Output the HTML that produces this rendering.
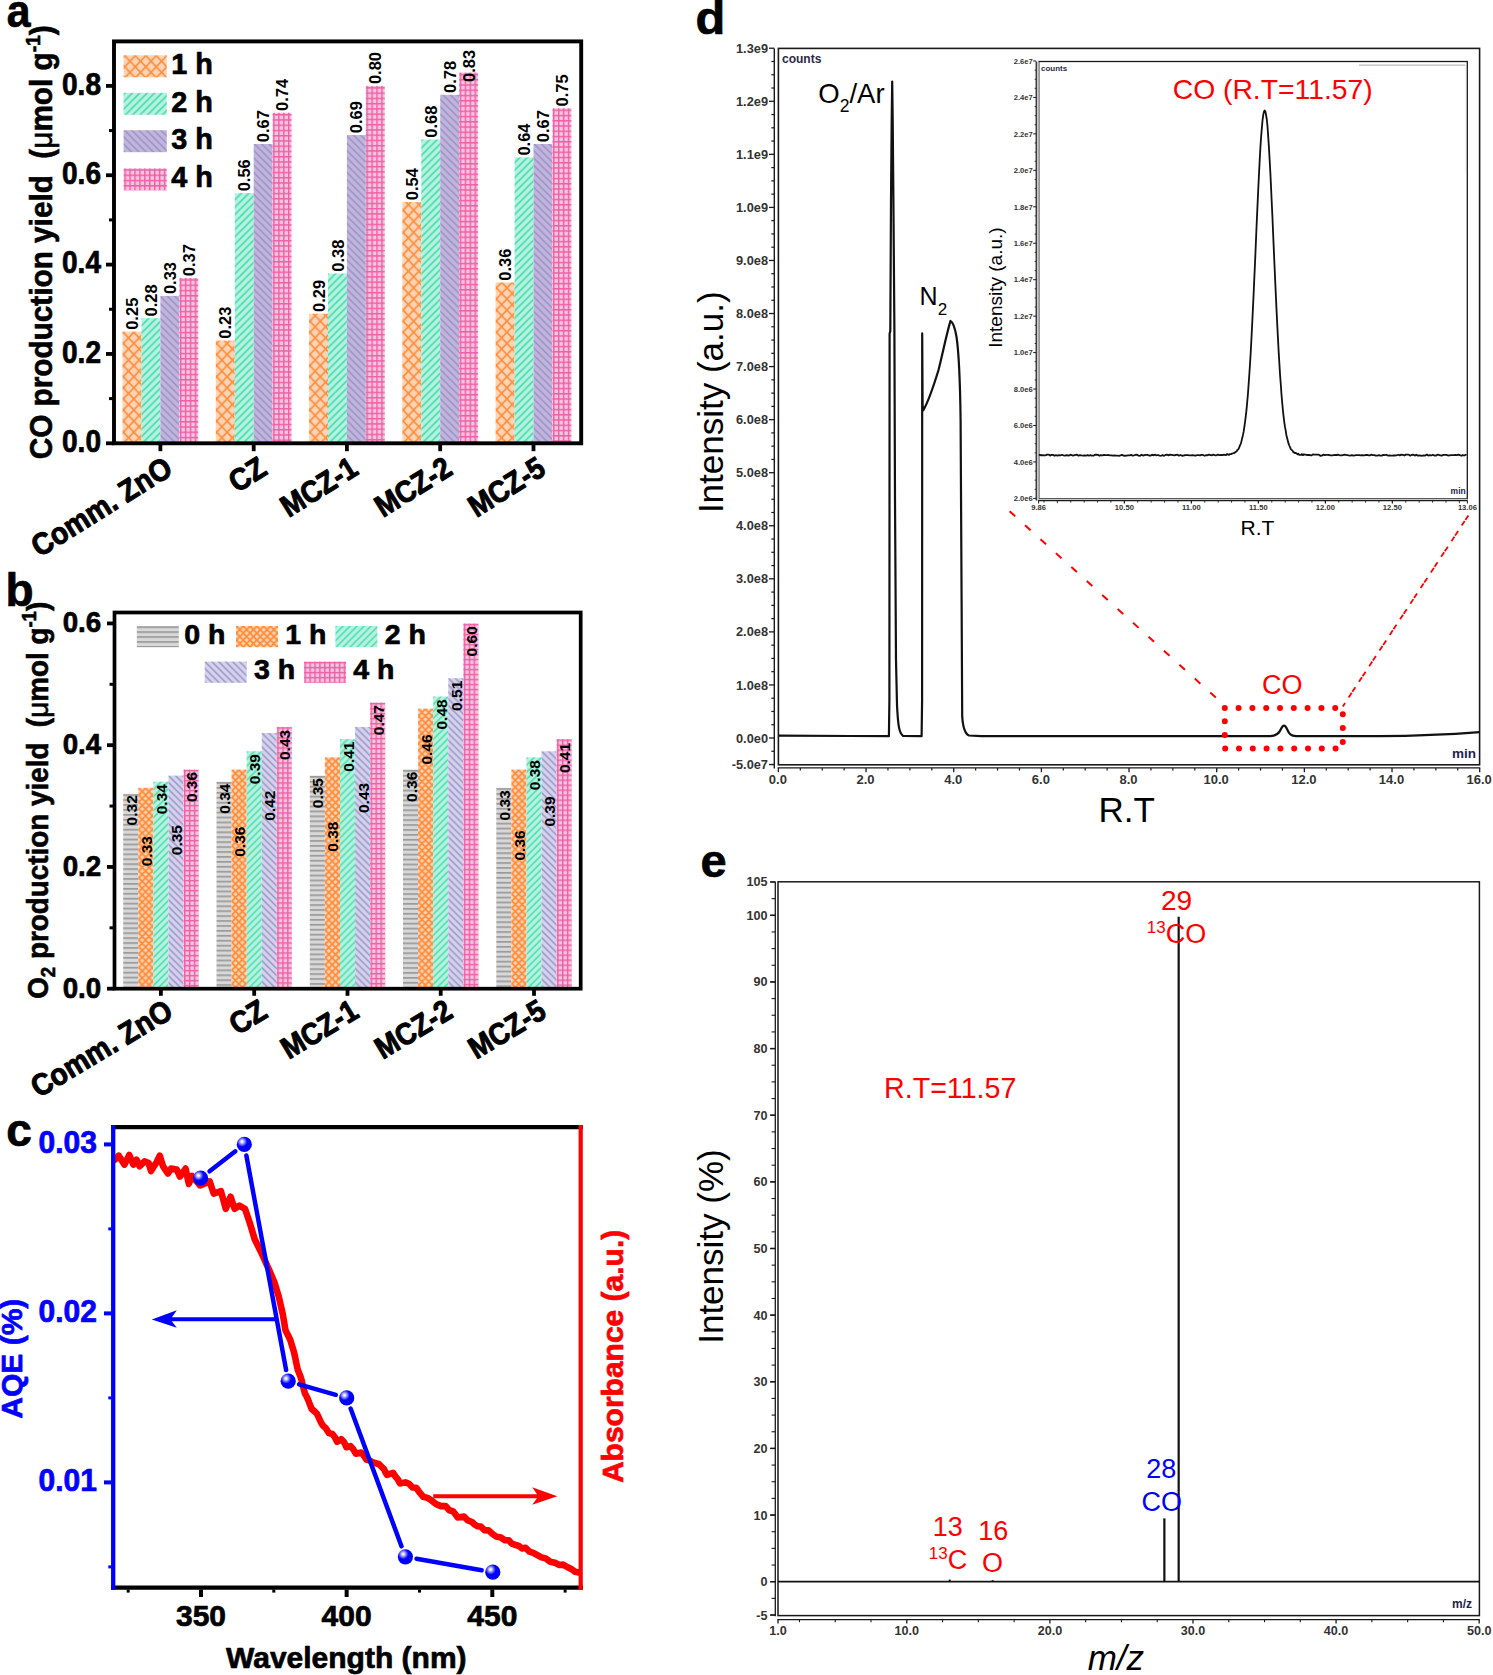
<!DOCTYPE html><html><head><meta charset="utf-8"><style>html,body{margin:0;padding:0;background:#fff;}svg{display:block;}text{font-family:"Liberation Sans", sans-serif;}</style></head><body>
<svg width="1493" height="1675" viewBox="0 0 1493 1675">
<rect width="1493" height="1675" fill="#fff"/>
<defs>
<radialGradient id="ball" cx="0.355" cy="0.32" r="0.34"><stop offset="0" stop-color="#FFFFFF"/><stop offset="0.2" stop-color="#E8E8FF"/><stop offset="0.6" stop-color="#7070FF"/><stop offset="1" stop-color="#0000FF"/></radialGradient>
</defs>
<rect x="122.54" y="331.61" width="18.95" height="111.69" fill="url(#p1)" />
<rect x="141.47" y="318.21" width="18.95" height="125.09" fill="url(#p2)" />
<rect x="160.40" y="295.87" width="18.95" height="147.43" fill="url(#p3)" />
<rect x="179.33" y="278.00" width="18.95" height="165.30" fill="url(#p4)" />
<rect x="215.84" y="340.55" width="18.95" height="102.75" fill="url(#p5)" />
<rect x="234.77" y="193.12" width="18.95" height="250.18" fill="url(#p6)" />
<rect x="253.70" y="143.98" width="18.95" height="299.32" fill="url(#p7)" />
<rect x="272.63" y="112.71" width="18.95" height="330.59" fill="url(#p8)" />
<rect x="309.04" y="313.74" width="18.95" height="129.56" fill="url(#p9)" />
<rect x="327.97" y="273.53" width="18.95" height="169.77" fill="url(#p10)" />
<rect x="346.90" y="135.04" width="18.95" height="308.26" fill="url(#p11)" />
<rect x="365.83" y="85.90" width="18.95" height="357.40" fill="url(#p12)" />
<rect x="402.34" y="202.06" width="18.95" height="241.25" fill="url(#p13)" />
<rect x="421.27" y="139.51" width="18.95" height="303.79" fill="url(#p14)" />
<rect x="440.20" y="94.83" width="18.95" height="348.47" fill="url(#p15)" />
<rect x="459.13" y="72.50" width="18.95" height="370.80" fill="url(#p16)" />
<rect x="495.64" y="282.47" width="18.95" height="160.83" fill="url(#p17)" />
<rect x="514.57" y="157.38" width="18.95" height="285.92" fill="url(#p18)" />
<rect x="533.50" y="143.98" width="18.95" height="299.32" fill="url(#p19)" />
<rect x="552.43" y="108.24" width="18.95" height="335.06" fill="url(#p20)" />
<text transform="translate(138.11,329.81) rotate(-90)" font-size="16.5" font-weight="bold" fill="#000" text-anchor="start" >0.25</text>
<text transform="translate(157.04,316.41) rotate(-90)" font-size="16.5" font-weight="bold" fill="#000" text-anchor="start" >0.28</text>
<text transform="translate(175.97,294.07) rotate(-90)" font-size="16.5" font-weight="bold" fill="#000" text-anchor="start" >0.33</text>
<text transform="translate(194.90,276.20) rotate(-90)" font-size="16.5" font-weight="bold" fill="#000" text-anchor="start" >0.37</text>
<text transform="translate(231.41,338.75) rotate(-90)" font-size="16.5" font-weight="bold" fill="#000" text-anchor="start" >0.23</text>
<text transform="translate(250.34,191.32) rotate(-90)" font-size="16.5" font-weight="bold" fill="#000" text-anchor="start" >0.56</text>
<text transform="translate(269.26,142.18) rotate(-90)" font-size="16.5" font-weight="bold" fill="#000" text-anchor="start" >0.67</text>
<text transform="translate(288.19,110.91) rotate(-90)" font-size="16.5" font-weight="bold" fill="#000" text-anchor="start" >0.74</text>
<text transform="translate(324.61,311.94) rotate(-90)" font-size="16.5" font-weight="bold" fill="#000" text-anchor="start" >0.29</text>
<text transform="translate(343.54,271.74) rotate(-90)" font-size="16.5" font-weight="bold" fill="#000" text-anchor="start" >0.38</text>
<text transform="translate(362.47,133.24) rotate(-90)" font-size="16.5" font-weight="bold" fill="#000" text-anchor="start" >0.69</text>
<text transform="translate(381.40,84.10) rotate(-90)" font-size="16.5" font-weight="bold" fill="#000" text-anchor="start" >0.80</text>
<text transform="translate(417.91,200.25) rotate(-90)" font-size="16.5" font-weight="bold" fill="#000" text-anchor="start" >0.54</text>
<text transform="translate(436.84,137.71) rotate(-90)" font-size="16.5" font-weight="bold" fill="#000" text-anchor="start" >0.68</text>
<text transform="translate(455.77,93.03) rotate(-90)" font-size="16.5" font-weight="bold" fill="#000" text-anchor="start" >0.78</text>
<text transform="translate(474.70,82.00) rotate(-90)" font-size="16.5" font-weight="bold" fill="#000" text-anchor="start" >0.83</text>
<text transform="translate(511.21,280.67) rotate(-90)" font-size="16.5" font-weight="bold" fill="#000" text-anchor="start" >0.36</text>
<text transform="translate(530.13,155.58) rotate(-90)" font-size="16.5" font-weight="bold" fill="#000" text-anchor="start" >0.64</text>
<text transform="translate(549.06,142.18) rotate(-90)" font-size="16.5" font-weight="bold" fill="#000" text-anchor="start" >0.67</text>
<text transform="translate(567.99,106.44) rotate(-90)" font-size="16.5" font-weight="bold" fill="#000" text-anchor="start" >0.75</text>
<rect x="114" y="41.4" width="467.2" height="401.9" fill="none" stroke="#000" stroke-width="3.9"/>
<line x1="106.00" y1="443.30" x2="114.00" y2="443.30" stroke="#000" stroke-width="3.8" />
<text transform="translate(101.00,452.10) scale(0.92,1)" font-size="30.5" font-weight="bold" fill="#000" text-anchor="end" stroke="#000" stroke-width="0.7" stroke-linejoin="round" >0.0</text>
<line x1="109.00" y1="398.62" x2="114.00" y2="398.62" stroke="#000" stroke-width="3.0" />
<line x1="106.00" y1="353.95" x2="114.00" y2="353.95" stroke="#000" stroke-width="3.8" />
<text transform="translate(101.00,362.75) scale(0.92,1)" font-size="30.5" font-weight="bold" fill="#000" text-anchor="end" stroke="#000" stroke-width="0.7" stroke-linejoin="round" >0.2</text>
<line x1="109.00" y1="309.27" x2="114.00" y2="309.27" stroke="#000" stroke-width="3.0" />
<line x1="106.00" y1="264.60" x2="114.00" y2="264.60" stroke="#000" stroke-width="3.8" />
<text transform="translate(101.00,273.40) scale(0.92,1)" font-size="30.5" font-weight="bold" fill="#000" text-anchor="end" stroke="#000" stroke-width="0.7" stroke-linejoin="round" >0.4</text>
<line x1="109.00" y1="219.93" x2="114.00" y2="219.93" stroke="#000" stroke-width="3.0" />
<line x1="106.00" y1="175.25" x2="114.00" y2="175.25" stroke="#000" stroke-width="3.8" />
<text transform="translate(101.00,184.05) scale(0.92,1)" font-size="30.5" font-weight="bold" fill="#000" text-anchor="end" stroke="#000" stroke-width="0.7" stroke-linejoin="round" >0.6</text>
<line x1="109.00" y1="130.58" x2="114.00" y2="130.58" stroke="#000" stroke-width="3.0" />
<line x1="106.00" y1="85.90" x2="114.00" y2="85.90" stroke="#000" stroke-width="3.8" />
<text transform="translate(101.00,94.70) scale(0.92,1)" font-size="30.5" font-weight="bold" fill="#000" text-anchor="end" stroke="#000" stroke-width="0.7" stroke-linejoin="round" >0.8</text>
<line x1="160.40" y1="443.30" x2="160.40" y2="451.20" stroke="#000" stroke-width="3.8" />
<line x1="253.70" y1="443.30" x2="253.70" y2="451.20" stroke="#000" stroke-width="3.8" />
<line x1="346.90" y1="443.30" x2="346.90" y2="451.20" stroke="#000" stroke-width="3.8" />
<line x1="440.20" y1="443.30" x2="440.20" y2="451.20" stroke="#000" stroke-width="3.8" />
<line x1="533.50" y1="443.30" x2="533.50" y2="451.20" stroke="#000" stroke-width="3.8" />
<text transform="translate(174.40,473.50) rotate(-32) scale(0.92,1)" font-size="30.5" font-weight="bold" fill="#000" text-anchor="end" stroke="#000" stroke-width="1.0" stroke-linejoin="round" >Comm. ZnO</text>
<text transform="translate(268.70,473.50) rotate(-32) scale(0.92,1)" font-size="30.5" font-weight="bold" fill="#000" text-anchor="end" stroke="#000" stroke-width="1.0" stroke-linejoin="round" >CZ</text>
<text transform="translate(359.90,473.50) rotate(-32) scale(0.9,1)" font-size="30.5" font-weight="bold" fill="#000" text-anchor="end" stroke="#000" stroke-width="1.0" stroke-linejoin="round" >MCZ-1</text>
<text transform="translate(454.20,473.50) rotate(-32) scale(0.9,1)" font-size="30.5" font-weight="bold" fill="#000" text-anchor="end" stroke="#000" stroke-width="1.0" stroke-linejoin="round" >MCZ-2</text>
<text transform="translate(547.50,473.50) rotate(-32) scale(0.9,1)" font-size="30.5" font-weight="bold" fill="#000" text-anchor="end" stroke="#000" stroke-width="1.0" stroke-linejoin="round" >MCZ-5</text>
<rect x="123.60" y="55.30" width="43.20" height="22.00" fill="url(#p21)" />
<text transform="translate(171.30,73.70) scale(0.96,1)" font-size="30" font-weight="bold" fill="#000" text-anchor="start" stroke="#000" stroke-width="0.7" stroke-linejoin="round" >1 h</text>
<rect x="123.60" y="92.80" width="43.20" height="22.00" fill="url(#p22)" />
<text transform="translate(171.30,111.70) scale(0.96,1)" font-size="30" font-weight="bold" fill="#000" text-anchor="start" stroke="#000" stroke-width="0.7" stroke-linejoin="round" >2 h</text>
<rect x="123.60" y="130.20" width="43.20" height="22.00" fill="url(#p23)" />
<text transform="translate(171.30,149.10) scale(0.96,1)" font-size="30" font-weight="bold" fill="#000" text-anchor="start" stroke="#000" stroke-width="0.7" stroke-linejoin="round" >3 h</text>
<rect x="123.60" y="168.40" width="43.20" height="22.00" fill="url(#p24)" />
<text transform="translate(171.30,187.30) scale(0.96,1)" font-size="30" font-weight="bold" fill="#000" text-anchor="start" stroke="#000" stroke-width="0.7" stroke-linejoin="round" >4 h</text>
<text transform="translate(51.6,459.3) rotate(-90)" font-size="31" font-weight="bold" stroke="#000" stroke-width="0.6" textLength="434" lengthAdjust="spacingAndGlyphs">CO production yield <tspan>&#160;(</tspan><tspan font-weight="normal">&#956;</tspan>mol g<tspan font-size="20" dy="-12">-1</tspan><tspan dy="12">)</tspan></text>
<text transform="translate(6.80,26.70) scale(0.93,1)" font-size="46" font-weight="bold" fill="#000" text-anchor="start" stroke="#000" stroke-width="0.7" stroke-linejoin="round" >a</text>
<rect x="123.20" y="793.88" width="15.10" height="194.82" fill="url(#p25)" />
<rect x="138.28" y="787.80" width="15.10" height="200.90" fill="url(#p26)" />
<rect x="153.36" y="781.71" width="15.10" height="206.99" fill="url(#p27)" />
<rect x="168.44" y="775.62" width="15.10" height="213.08" fill="url(#p28)" />
<rect x="183.52" y="769.53" width="15.10" height="219.17" fill="url(#p29)" />
<rect x="216.50" y="781.71" width="15.10" height="206.99" fill="url(#p30)" />
<rect x="231.58" y="769.53" width="15.10" height="219.17" fill="url(#p31)" />
<rect x="246.66" y="751.27" width="15.10" height="237.43" fill="url(#p32)" />
<rect x="261.74" y="733.00" width="15.10" height="255.70" fill="url(#p33)" />
<rect x="276.82" y="726.92" width="15.10" height="261.78" fill="url(#p34)" />
<rect x="309.80" y="775.62" width="15.10" height="213.08" fill="url(#p35)" />
<rect x="324.88" y="757.36" width="15.10" height="231.34" fill="url(#p36)" />
<rect x="339.96" y="739.09" width="15.10" height="249.61" fill="url(#p37)" />
<rect x="355.04" y="726.92" width="15.10" height="261.78" fill="url(#p38)" />
<rect x="370.12" y="702.56" width="15.10" height="286.14" fill="url(#p39)" />
<rect x="403.00" y="769.53" width="15.10" height="219.17" fill="url(#p40)" />
<rect x="418.08" y="708.65" width="15.10" height="280.05" fill="url(#p41)" />
<rect x="433.16" y="696.48" width="15.10" height="292.22" fill="url(#p42)" />
<rect x="448.24" y="678.21" width="15.10" height="310.49" fill="url(#p43)" />
<rect x="463.32" y="623.42" width="15.10" height="365.28" fill="url(#p44)" />
<rect x="496.30" y="787.80" width="15.10" height="200.90" fill="url(#p45)" />
<rect x="511.38" y="769.53" width="15.10" height="219.17" fill="url(#p46)" />
<rect x="526.46" y="757.36" width="15.10" height="231.34" fill="url(#p47)" />
<rect x="541.54" y="751.27" width="15.10" height="237.43" fill="url(#p48)" />
<rect x="556.62" y="739.09" width="15.10" height="249.61" fill="url(#p49)" />
<text transform="translate(136.74,825.40) rotate(-90)" font-size="15.5" font-weight="bold" fill="#000" text-anchor="start" >0.32</text>
<text transform="translate(151.82,866.30) rotate(-90)" font-size="15.5" font-weight="bold" fill="#000" text-anchor="start" >0.33</text>
<text transform="translate(166.90,814.30) rotate(-90)" font-size="15.5" font-weight="bold" fill="#000" text-anchor="start" >0.34</text>
<text transform="translate(181.98,855.20) rotate(-90)" font-size="15.5" font-weight="bold" fill="#000" text-anchor="start" >0.35</text>
<text transform="translate(197.06,802.10) rotate(-90)" font-size="15.5" font-weight="bold" fill="#000" text-anchor="start" >0.36</text>
<text transform="translate(230.04,813.70) rotate(-90)" font-size="15.5" font-weight="bold" fill="#000" text-anchor="start" >0.34</text>
<text transform="translate(245.12,856.80) rotate(-90)" font-size="15.5" font-weight="bold" fill="#000" text-anchor="start" >0.36</text>
<text transform="translate(260.20,784.30) rotate(-90)" font-size="15.5" font-weight="bold" fill="#000" text-anchor="start" >0.39</text>
<text transform="translate(275.28,820.80) rotate(-90)" font-size="15.5" font-weight="bold" fill="#000" text-anchor="start" >0.42</text>
<text transform="translate(290.36,760.00) rotate(-90)" font-size="15.5" font-weight="bold" fill="#000" text-anchor="start" >0.43</text>
<text transform="translate(323.34,808.20) rotate(-90)" font-size="15.5" font-weight="bold" fill="#000" text-anchor="start" >0.35</text>
<text transform="translate(338.42,851.70) rotate(-90)" font-size="15.5" font-weight="bold" fill="#000" text-anchor="start" >0.38</text>
<text transform="translate(353.50,771.70) rotate(-90)" font-size="15.5" font-weight="bold" fill="#000" text-anchor="start" >0.41</text>
<text transform="translate(368.58,813.00) rotate(-90)" font-size="15.5" font-weight="bold" fill="#000" text-anchor="start" >0.43</text>
<text transform="translate(383.66,735.20) rotate(-90)" font-size="15.5" font-weight="bold" fill="#000" text-anchor="start" >0.47</text>
<text transform="translate(416.54,801.90) rotate(-90)" font-size="15.5" font-weight="bold" fill="#000" text-anchor="start" >0.36</text>
<text transform="translate(431.62,764.60) rotate(-90)" font-size="15.5" font-weight="bold" fill="#000" text-anchor="start" >0.46</text>
<text transform="translate(446.70,729.50) rotate(-90)" font-size="15.5" font-weight="bold" fill="#000" text-anchor="start" >0.48</text>
<text transform="translate(461.78,710.90) rotate(-90)" font-size="15.5" font-weight="bold" fill="#000" text-anchor="start" >0.51</text>
<text transform="translate(476.86,656.40) rotate(-90)" font-size="15.5" font-weight="bold" fill="#000" text-anchor="start" >0.60</text>
<text transform="translate(509.84,820.40) rotate(-90)" font-size="15.5" font-weight="bold" fill="#000" text-anchor="start" >0.33</text>
<text transform="translate(524.92,860.50) rotate(-90)" font-size="15.5" font-weight="bold" fill="#000" text-anchor="start" >0.36</text>
<text transform="translate(540.00,790.30) rotate(-90)" font-size="15.5" font-weight="bold" fill="#000" text-anchor="start" >0.38</text>
<text transform="translate(555.08,826.60) rotate(-90)" font-size="15.5" font-weight="bold" fill="#000" text-anchor="start" >0.39</text>
<text transform="translate(570.16,773.10) rotate(-90)" font-size="15.5" font-weight="bold" fill="#000" text-anchor="start" >0.41</text>
<rect x="114.5" y="612.5" width="466.2" height="376.2" fill="none" stroke="#000" stroke-width="3.7"/>
<line x1="107.00" y1="988.70" x2="114.50" y2="988.70" stroke="#000" stroke-width="3.8" />
<text transform="translate(101.20,997.50) scale(0.94,1)" font-size="29.5" font-weight="bold" fill="#000" text-anchor="end" stroke="#000" stroke-width="0.7" stroke-linejoin="round" >0.0</text>
<line x1="109.50" y1="927.82" x2="114.50" y2="927.82" stroke="#000" stroke-width="3.0" />
<line x1="107.00" y1="866.94" x2="114.50" y2="866.94" stroke="#000" stroke-width="3.8" />
<text transform="translate(101.20,875.74) scale(0.94,1)" font-size="29.5" font-weight="bold" fill="#000" text-anchor="end" stroke="#000" stroke-width="0.7" stroke-linejoin="round" >0.2</text>
<line x1="109.50" y1="806.06" x2="114.50" y2="806.06" stroke="#000" stroke-width="3.0" />
<line x1="107.00" y1="745.18" x2="114.50" y2="745.18" stroke="#000" stroke-width="3.8" />
<text transform="translate(101.20,753.98) scale(0.94,1)" font-size="29.5" font-weight="bold" fill="#000" text-anchor="end" stroke="#000" stroke-width="0.7" stroke-linejoin="round" >0.4</text>
<line x1="109.50" y1="684.30" x2="114.50" y2="684.30" stroke="#000" stroke-width="3.0" />
<line x1="107.00" y1="623.42" x2="114.50" y2="623.42" stroke="#000" stroke-width="3.8" />
<text transform="translate(101.20,632.22) scale(0.94,1)" font-size="29.5" font-weight="bold" fill="#000" text-anchor="end" stroke="#000" stroke-width="0.7" stroke-linejoin="round" >0.6</text>
<line x1="160.90" y1="988.70" x2="160.90" y2="995.80" stroke="#000" stroke-width="3.8" />
<line x1="254.20" y1="988.70" x2="254.20" y2="995.80" stroke="#000" stroke-width="3.8" />
<line x1="347.50" y1="988.70" x2="347.50" y2="995.80" stroke="#000" stroke-width="3.8" />
<line x1="440.70" y1="988.70" x2="440.70" y2="995.80" stroke="#000" stroke-width="3.8" />
<line x1="534.00" y1="988.70" x2="534.00" y2="995.80" stroke="#000" stroke-width="3.8" />
<text transform="translate(174.90,1016.50) rotate(-31) scale(0.92,1)" font-size="30.5" font-weight="bold" fill="#000" text-anchor="end" stroke="#000" stroke-width="1.0" stroke-linejoin="round" >Comm. ZnO</text>
<text transform="translate(269.20,1016.50) rotate(-31) scale(0.92,1)" font-size="30.5" font-weight="bold" fill="#000" text-anchor="end" stroke="#000" stroke-width="1.0" stroke-linejoin="round" >CZ</text>
<text transform="translate(360.50,1016.50) rotate(-31) scale(0.9,1)" font-size="30.5" font-weight="bold" fill="#000" text-anchor="end" stroke="#000" stroke-width="1.0" stroke-linejoin="round" >MCZ-1</text>
<text transform="translate(454.70,1016.50) rotate(-31) scale(0.9,1)" font-size="30.5" font-weight="bold" fill="#000" text-anchor="end" stroke="#000" stroke-width="1.0" stroke-linejoin="round" >MCZ-2</text>
<text transform="translate(548.00,1016.50) rotate(-31) scale(0.9,1)" font-size="30.5" font-weight="bold" fill="#000" text-anchor="end" stroke="#000" stroke-width="1.0" stroke-linejoin="round" >MCZ-5</text>
<rect x="136.80" y="626.00" width="42.00" height="21.20" fill="url(#p50)" />
<text transform="translate(184.30,643.50)" font-size="28.5" font-weight="bold" fill="#000" text-anchor="start" stroke="#000" stroke-width="0.7" stroke-linejoin="round" >0 h</text>
<rect x="236.00" y="626.00" width="42.00" height="21.20" fill="url(#p51)" />
<text transform="translate(285.30,643.50)" font-size="28.5" font-weight="bold" fill="#000" text-anchor="start" stroke="#000" stroke-width="0.7" stroke-linejoin="round" >1 h</text>
<rect x="335.40" y="626.00" width="42.00" height="21.20" fill="url(#p52)" />
<text transform="translate(384.70,643.50)" font-size="28.5" font-weight="bold" fill="#000" text-anchor="start" stroke="#000" stroke-width="0.7" stroke-linejoin="round" >2 h</text>
<rect x="204.70" y="661.60" width="42.00" height="21.20" fill="url(#p53)" />
<text transform="translate(254.00,679.10)" font-size="28.5" font-weight="bold" fill="#000" text-anchor="start" stroke="#000" stroke-width="0.7" stroke-linejoin="round" >3 h</text>
<rect x="304.00" y="661.60" width="42.00" height="21.20" fill="url(#p54)" />
<text transform="translate(353.30,679.10)" font-size="28.5" font-weight="bold" fill="#000" text-anchor="start" stroke="#000" stroke-width="0.7" stroke-linejoin="round" >4 h</text>
<text transform="translate(47.7,998.8) rotate(-90)" font-size="30" font-weight="bold" stroke="#000" stroke-width="0.6" textLength="397" lengthAdjust="spacingAndGlyphs">O<tspan font-size="20" dy="7">2</tspan><tspan dy="-7"> production yield </tspan>&#160;(<tspan font-weight="normal">&#956;</tspan>mol g<tspan font-size="20" dy="-12">-1</tspan><tspan dy="12">)</tspan></text>
<text transform="translate(5.60,605.80)" font-size="46" font-weight="bold" fill="#000" text-anchor="start" stroke="#000" stroke-width="0.7" stroke-linejoin="round" >b</text>
<polyline points="114.80,1159.70 118.80,1155.70 120.70,1158.67 122.60,1161.63 124.50,1164.60 126.10,1161.37 127.70,1158.13 129.30,1154.90 131.30,1159.75 133.30,1164.60 136.50,1159.70 138.10,1162.95 139.70,1166.20 144.60,1161.40 148.60,1163.00 149.80,1167.00 151.00,1171.00 153.80,1166.60 156.60,1162.20 158.20,1158.95 159.80,1155.70 160.87,1159.20 161.93,1162.70 163.00,1166.20 165.45,1169.80 167.90,1173.40 171.10,1168.60 176.70,1169.40 178.30,1173.00 179.90,1176.60 182.75,1172.60 185.60,1168.60 186.40,1172.42 187.20,1176.25 188.00,1180.08 188.80,1183.90 190.40,1179.85 192.00,1175.80 194.67,1179.03 197.33,1182.27 200.00,1185.50 203.23,1184.13 206.47,1182.77 209.70,1181.40 211.03,1185.43 212.37,1189.47 213.70,1193.50 217.30,1192.30 220.90,1191.10 221.88,1194.64 222.86,1198.18 223.84,1201.72 224.82,1205.26 225.80,1208.80 227.40,1204.77 229.00,1200.73 230.60,1196.70 231.93,1200.73 233.27,1204.77 234.60,1208.80 239.40,1205.60 245.00,1208.80 246.22,1212.40 247.45,1216.00 248.68,1219.60 249.90,1223.20 251.10,1227.22 252.30,1231.25 253.50,1235.28 254.70,1239.30 256.30,1242.53 257.90,1245.75 259.50,1248.97 261.10,1252.20 262.56,1255.42 264.02,1258.64 265.48,1261.86 266.94,1265.08 268.40,1268.30 270.00,1272.08 271.60,1275.85 273.20,1279.62 274.80,1283.40 276.13,1287.87 277.47,1292.33 278.80,1296.80 279.60,1300.28 280.40,1303.76 281.20,1307.24 282.00,1310.72 282.80,1314.20 283.48,1318.22 284.15,1322.25 284.82,1326.28 285.50,1330.30 287.07,1333.43 288.63,1336.57 290.20,1339.70 291.53,1344.13 292.87,1348.57 294.20,1353.00 295.05,1357.03 295.90,1361.05 296.75,1365.07 297.60,1369.10 298.93,1372.67 300.27,1375.89 301.60,1380.14 302.70,1385.25 303.80,1389.22 304.90,1393.41 306.90,1396.99 308.90,1401.83 311.60,1408.86 314.30,1411.08 317.00,1413.80 319.00,1418.09 321.00,1422.48 323.00,1425.62 326.00,1428.41 329.00,1433.16 332.40,1434.02 334.75,1436.98 337.10,1441.77 341.10,1439.18 343.80,1441.84 346.50,1447.27 350.50,1446.09 353.15,1449.17 355.80,1453.67 361.20,1452.57 363.85,1455.62 366.50,1459.68 369.85,1460.58 373.20,1462.50 378.60,1463.94 384.00,1469.11 385.50,1472.25 387.00,1474.85 393.10,1472.86 395.40,1476.50 397.70,1479.15 400.00,1483.50 405.40,1482.37 409.00,1483.79 412.60,1487.46 416.20,1487.75 419.70,1492.70 423.20,1496.75 427.40,1497.85 431.60,1500.59 436.20,1504.12 440.85,1506.09 445.50,1505.99 449.35,1510.30 453.20,1511.37 457.80,1517.49 464.00,1516.49 467.85,1520.47 471.70,1521.77 474.77,1524.64 477.83,1526.32 480.90,1526.64 484.75,1530.32 488.60,1530.40 492.45,1533.93 496.30,1536.67 500.43,1537.33 504.57,1540.09 508.70,1540.18 511.75,1543.69 514.80,1544.74 518.40,1545.74 522.00,1548.46 525.60,1547.75 529.45,1551.64 533.30,1552.83 537.40,1555.14 541.50,1557.34 545.60,1558.41 550.25,1561.74 554.90,1562.67 559.00,1564.97 563.10,1564.62 567.20,1567.01 571.80,1569.28 575.25,1571.85 578.70,1572.50" fill="none" stroke="#FF0000" stroke-width="6.6" stroke-linejoin="round" stroke-linecap="round" />
<line x1="111.00" y1="1127.20" x2="583.00" y2="1127.20" stroke="#000" stroke-width="4.2" />
<line x1="111.00" y1="1587.60" x2="583.00" y2="1587.60" stroke="#000" stroke-width="4.3" />
<line x1="113.20" y1="1125.00" x2="113.20" y2="1589.80" stroke="#0000FF" stroke-width="4.3" />
<line x1="580.70" y1="1125.00" x2="580.70" y2="1589.80" stroke="#FF0000" stroke-width="4.2" />
<line x1="104.00" y1="1482.40" x2="111.50" y2="1482.40" stroke="#0000FF" stroke-width="4.0" />
<text transform="translate(97.00,1491.40) scale(0.97,1)" font-size="31" font-weight="bold" fill="#0000FF" text-anchor="end" stroke="#0000FF" stroke-width="0.7" stroke-linejoin="round" >0.01</text>
<line x1="104.00" y1="1313.40" x2="111.50" y2="1313.40" stroke="#0000FF" stroke-width="4.0" />
<text transform="translate(97.00,1322.40) scale(0.97,1)" font-size="31" font-weight="bold" fill="#0000FF" text-anchor="end" stroke="#0000FF" stroke-width="0.7" stroke-linejoin="round" >0.02</text>
<line x1="104.00" y1="1144.40" x2="111.50" y2="1144.40" stroke="#0000FF" stroke-width="4.0" />
<text transform="translate(97.00,1153.40) scale(0.97,1)" font-size="31" font-weight="bold" fill="#0000FF" text-anchor="end" stroke="#0000FF" stroke-width="0.7" stroke-linejoin="round" >0.03</text>
<line x1="108.30" y1="1566.90" x2="111.50" y2="1566.90" stroke="#0000FF" stroke-width="3.0" />
<line x1="108.30" y1="1397.90" x2="111.50" y2="1397.90" stroke="#0000FF" stroke-width="3.0" />
<line x1="108.30" y1="1228.90" x2="111.50" y2="1228.90" stroke="#0000FF" stroke-width="3.0" />
<line x1="201.00" y1="1589.50" x2="201.00" y2="1597.00" stroke="#000" stroke-width="4.0" />
<text transform="translate(201.00,1626.20)" font-size="30" font-weight="bold" fill="#000" text-anchor="middle" stroke="#000" stroke-width="0.7" stroke-linejoin="round" >350</text>
<line x1="346.65" y1="1589.50" x2="346.65" y2="1597.00" stroke="#000" stroke-width="4.0" />
<text transform="translate(346.65,1626.20)" font-size="30" font-weight="bold" fill="#000" text-anchor="middle" stroke="#000" stroke-width="0.7" stroke-linejoin="round" >400</text>
<line x1="492.30" y1="1589.50" x2="492.30" y2="1597.00" stroke="#000" stroke-width="4.0" />
<text transform="translate(492.30,1626.20)" font-size="30" font-weight="bold" fill="#000" text-anchor="middle" stroke="#000" stroke-width="0.7" stroke-linejoin="round" >450</text>
<line x1="128.18" y1="1589.50" x2="128.18" y2="1592.60" stroke="#000" stroke-width="3.0" />
<line x1="273.82" y1="1589.50" x2="273.82" y2="1592.60" stroke="#000" stroke-width="3.0" />
<line x1="419.48" y1="1589.50" x2="419.48" y2="1592.60" stroke="#000" stroke-width="3.0" />
<line x1="565.12" y1="1589.50" x2="565.12" y2="1592.60" stroke="#000" stroke-width="3.0" />
<text transform="translate(226.00,1668.00)" font-size="30" font-weight="bold" fill="#000" text-anchor="start" stroke="#000" stroke-width="0.7" stroke-linejoin="round" >Wavelength (nm)</text>
<text transform="translate(22.20,1418.70) rotate(-90)" font-size="30" font-weight="bold" fill="#0000FF" text-anchor="start" stroke="#0000FF" stroke-width="0.7" stroke-linejoin="round" >AQE (%)</text>
<text transform="translate(623.00,1483.10) rotate(-90)" font-size="30" font-weight="bold" fill="#FF0000" text-anchor="start" stroke="#FF0000" stroke-width="0.7" stroke-linejoin="round" >Absorbance (a.u.)</text>
<line x1="276.50" y1="1319.30" x2="160.00" y2="1319.30" stroke="#0000FF" stroke-width="4.1" />
<path d="M151.8,1319.4 L176.8,1310.2 L170.4,1319.4 L176.8,1327.8 Z" fill="#0000FF"/>
<line x1="433.20" y1="1496.20" x2="548.00" y2="1496.20" stroke="#FF0000" stroke-width="4.1" />
<path d="M557.3,1496.3 L532.2,1487.2 L538.4,1496.3 L532.2,1504.8 Z" fill="#FF0000"/>
<line x1="209.54" y1="1171.29" x2="235.36" y2="1151.31" stroke="#0000FF" stroke-width="4.5" stroke-linecap="round"/>
<line x1="246.36" y1="1155.51" x2="286.14" y2="1370.09" stroke="#0000FF" stroke-width="4.5" stroke-linecap="round"/>
<line x1="299.07" y1="1384.30" x2="335.83" y2="1394.80" stroke="#0000FF" stroke-width="4.5" stroke-linecap="round"/>
<line x1="350.62" y1="1408.50" x2="401.48" y2="1546.20" stroke="#0000FF" stroke-width="4.5" stroke-linecap="round"/>
<line x1="416.53" y1="1558.76" x2="481.67" y2="1570.24" stroke="#0000FF" stroke-width="4.5" stroke-linecap="round"/>
<circle cx="200.6" cy="1178.2" r="7.6" fill="url(#ball)"/>
<circle cx="244.3" cy="1144.4" r="7.6" fill="url(#ball)"/>
<circle cx="288.2" cy="1381.2" r="7.6" fill="url(#ball)"/>
<circle cx="346.7" cy="1397.9" r="7.6" fill="url(#ball)"/>
<circle cx="405.4" cy="1556.8" r="7.6" fill="url(#ball)"/>
<circle cx="492.8" cy="1572.2" r="7.6" fill="url(#ball)"/>
<text transform="translate(6.20,1146.30)" font-size="46" font-weight="bold" fill="#000" text-anchor="start" stroke="#000" stroke-width="0.7" stroke-linejoin="round" >c</text>
<rect x="778.4" y="48.4" width="701.2" height="716.4" fill="none" stroke="#1a1a1a" stroke-width="1.6"/>
<line x1="774.30" y1="48.40" x2="774.30" y2="768.50" stroke="#1a1a1a" stroke-width="1.4" />
<line x1="777.60" y1="767.90" x2="1480.30" y2="767.90" stroke="#1a1a1a" stroke-width="1.4" />
<line x1="771.30" y1="764.53" x2="774.30" y2="764.53" stroke="#1a1a1a" stroke-width="1.2" />
<line x1="771.30" y1="751.26" x2="774.30" y2="751.26" stroke="#1a1a1a" stroke-width="1.2" />
<line x1="769.00" y1="738.00" x2="774.30" y2="738.00" stroke="#1a1a1a" stroke-width="1.3" />
<text transform="translate(768.00,742.60)" font-size="12.8" font-weight="bold" fill="#333" text-anchor="end" >0.0e0</text>
<line x1="771.30" y1="724.74" x2="774.30" y2="724.74" stroke="#1a1a1a" stroke-width="1.2" />
<line x1="771.30" y1="711.47" x2="774.30" y2="711.47" stroke="#1a1a1a" stroke-width="1.2" />
<line x1="771.30" y1="698.21" x2="774.30" y2="698.21" stroke="#1a1a1a" stroke-width="1.2" />
<line x1="769.00" y1="684.94" x2="774.30" y2="684.94" stroke="#1a1a1a" stroke-width="1.3" />
<text transform="translate(768.00,689.54)" font-size="12.8" font-weight="bold" fill="#333" text-anchor="end" >1.0e8</text>
<line x1="771.30" y1="671.67" x2="774.30" y2="671.67" stroke="#1a1a1a" stroke-width="1.2" />
<line x1="771.30" y1="658.41" x2="774.30" y2="658.41" stroke="#1a1a1a" stroke-width="1.2" />
<line x1="771.30" y1="645.14" x2="774.30" y2="645.14" stroke="#1a1a1a" stroke-width="1.2" />
<line x1="769.00" y1="631.88" x2="774.30" y2="631.88" stroke="#1a1a1a" stroke-width="1.3" />
<text transform="translate(768.00,636.48)" font-size="12.8" font-weight="bold" fill="#333" text-anchor="end" >2.0e8</text>
<line x1="771.30" y1="618.62" x2="774.30" y2="618.62" stroke="#1a1a1a" stroke-width="1.2" />
<line x1="771.30" y1="605.35" x2="774.30" y2="605.35" stroke="#1a1a1a" stroke-width="1.2" />
<line x1="771.30" y1="592.09" x2="774.30" y2="592.09" stroke="#1a1a1a" stroke-width="1.2" />
<line x1="769.00" y1="578.82" x2="774.30" y2="578.82" stroke="#1a1a1a" stroke-width="1.3" />
<text transform="translate(768.00,583.42)" font-size="12.8" font-weight="bold" fill="#333" text-anchor="end" >3.0e8</text>
<line x1="771.30" y1="565.56" x2="774.30" y2="565.56" stroke="#1a1a1a" stroke-width="1.2" />
<line x1="771.30" y1="552.29" x2="774.30" y2="552.29" stroke="#1a1a1a" stroke-width="1.2" />
<line x1="771.30" y1="539.02" x2="774.30" y2="539.02" stroke="#1a1a1a" stroke-width="1.2" />
<line x1="769.00" y1="525.76" x2="774.30" y2="525.76" stroke="#1a1a1a" stroke-width="1.3" />
<text transform="translate(768.00,530.36)" font-size="12.8" font-weight="bold" fill="#333" text-anchor="end" >4.0e8</text>
<line x1="771.30" y1="512.50" x2="774.30" y2="512.50" stroke="#1a1a1a" stroke-width="1.2" />
<line x1="771.30" y1="499.23" x2="774.30" y2="499.23" stroke="#1a1a1a" stroke-width="1.2" />
<line x1="771.30" y1="485.96" x2="774.30" y2="485.96" stroke="#1a1a1a" stroke-width="1.2" />
<line x1="769.00" y1="472.70" x2="774.30" y2="472.70" stroke="#1a1a1a" stroke-width="1.3" />
<text transform="translate(768.00,477.30)" font-size="12.8" font-weight="bold" fill="#333" text-anchor="end" >5.0e8</text>
<line x1="771.30" y1="459.44" x2="774.30" y2="459.44" stroke="#1a1a1a" stroke-width="1.2" />
<line x1="771.30" y1="446.17" x2="774.30" y2="446.17" stroke="#1a1a1a" stroke-width="1.2" />
<line x1="771.30" y1="432.90" x2="774.30" y2="432.90" stroke="#1a1a1a" stroke-width="1.2" />
<line x1="769.00" y1="419.64" x2="774.30" y2="419.64" stroke="#1a1a1a" stroke-width="1.3" />
<text transform="translate(768.00,424.24)" font-size="12.8" font-weight="bold" fill="#333" text-anchor="end" >6.0e8</text>
<line x1="771.30" y1="406.38" x2="774.30" y2="406.38" stroke="#1a1a1a" stroke-width="1.2" />
<line x1="771.30" y1="393.11" x2="774.30" y2="393.11" stroke="#1a1a1a" stroke-width="1.2" />
<line x1="771.30" y1="379.84" x2="774.30" y2="379.84" stroke="#1a1a1a" stroke-width="1.2" />
<line x1="769.00" y1="366.58" x2="774.30" y2="366.58" stroke="#1a1a1a" stroke-width="1.3" />
<text transform="translate(768.00,371.18)" font-size="12.8" font-weight="bold" fill="#333" text-anchor="end" >7.0e8</text>
<line x1="771.30" y1="353.31" x2="774.30" y2="353.31" stroke="#1a1a1a" stroke-width="1.2" />
<line x1="771.30" y1="340.05" x2="774.30" y2="340.05" stroke="#1a1a1a" stroke-width="1.2" />
<line x1="771.30" y1="326.78" x2="774.30" y2="326.78" stroke="#1a1a1a" stroke-width="1.2" />
<line x1="769.00" y1="313.52" x2="774.30" y2="313.52" stroke="#1a1a1a" stroke-width="1.3" />
<text transform="translate(768.00,318.12)" font-size="12.8" font-weight="bold" fill="#333" text-anchor="end" >8.0e8</text>
<line x1="771.30" y1="300.25" x2="774.30" y2="300.25" stroke="#1a1a1a" stroke-width="1.2" />
<line x1="771.30" y1="286.99" x2="774.30" y2="286.99" stroke="#1a1a1a" stroke-width="1.2" />
<line x1="771.30" y1="273.72" x2="774.30" y2="273.72" stroke="#1a1a1a" stroke-width="1.2" />
<line x1="769.00" y1="260.46" x2="774.30" y2="260.46" stroke="#1a1a1a" stroke-width="1.3" />
<text transform="translate(768.00,265.06)" font-size="12.8" font-weight="bold" fill="#333" text-anchor="end" >9.0e8</text>
<line x1="771.30" y1="247.19" x2="774.30" y2="247.19" stroke="#1a1a1a" stroke-width="1.2" />
<line x1="771.30" y1="233.93" x2="774.30" y2="233.93" stroke="#1a1a1a" stroke-width="1.2" />
<line x1="771.30" y1="220.66" x2="774.30" y2="220.66" stroke="#1a1a1a" stroke-width="1.2" />
<line x1="769.00" y1="207.40" x2="774.30" y2="207.40" stroke="#1a1a1a" stroke-width="1.3" />
<text transform="translate(768.00,212.00)" font-size="12.8" font-weight="bold" fill="#333" text-anchor="end" >1.0e9</text>
<line x1="771.30" y1="194.13" x2="774.30" y2="194.13" stroke="#1a1a1a" stroke-width="1.2" />
<line x1="771.30" y1="180.87" x2="774.30" y2="180.87" stroke="#1a1a1a" stroke-width="1.2" />
<line x1="771.30" y1="167.61" x2="774.30" y2="167.61" stroke="#1a1a1a" stroke-width="1.2" />
<line x1="769.00" y1="154.34" x2="774.30" y2="154.34" stroke="#1a1a1a" stroke-width="1.3" />
<text transform="translate(768.00,158.94)" font-size="12.8" font-weight="bold" fill="#333" text-anchor="end" >1.1e9</text>
<line x1="771.30" y1="141.07" x2="774.30" y2="141.07" stroke="#1a1a1a" stroke-width="1.2" />
<line x1="771.30" y1="127.81" x2="774.30" y2="127.81" stroke="#1a1a1a" stroke-width="1.2" />
<line x1="771.30" y1="114.54" x2="774.30" y2="114.54" stroke="#1a1a1a" stroke-width="1.2" />
<line x1="769.00" y1="101.28" x2="774.30" y2="101.28" stroke="#1a1a1a" stroke-width="1.3" />
<text transform="translate(768.00,105.88)" font-size="12.8" font-weight="bold" fill="#333" text-anchor="end" >1.2e9</text>
<line x1="771.30" y1="88.01" x2="774.30" y2="88.01" stroke="#1a1a1a" stroke-width="1.2" />
<line x1="771.30" y1="74.75" x2="774.30" y2="74.75" stroke="#1a1a1a" stroke-width="1.2" />
<line x1="771.30" y1="61.49" x2="774.30" y2="61.49" stroke="#1a1a1a" stroke-width="1.2" />
<line x1="769.00" y1="48.22" x2="774.30" y2="48.22" stroke="#1a1a1a" stroke-width="1.3" />
<text transform="translate(768.00,52.82)" font-size="12.8" font-weight="bold" fill="#333" text-anchor="end" >1.3e9</text>
<line x1="769.00" y1="764.53" x2="774.30" y2="764.53" stroke="#1a1a1a" stroke-width="1.3" />
<text transform="translate(768.00,769.13)" font-size="12.8" font-weight="bold" fill="#333" text-anchor="end" >-5.0e7</text>
<line x1="778.40" y1="767.90" x2="778.40" y2="772.20" stroke="#1a1a1a" stroke-width="1.3" />
<text transform="translate(777.90,784.00)" font-size="13" font-weight="bold" fill="#333" text-anchor="middle" >0.0</text>
<line x1="800.31" y1="767.90" x2="800.31" y2="770.60" stroke="#1a1a1a" stroke-width="1.2" />
<line x1="822.23" y1="767.90" x2="822.23" y2="770.60" stroke="#1a1a1a" stroke-width="1.2" />
<line x1="844.14" y1="767.90" x2="844.14" y2="770.60" stroke="#1a1a1a" stroke-width="1.2" />
<line x1="866.06" y1="767.90" x2="866.06" y2="772.20" stroke="#1a1a1a" stroke-width="1.3" />
<text transform="translate(865.56,784.00)" font-size="13" font-weight="bold" fill="#333" text-anchor="middle" >2.0</text>
<line x1="887.97" y1="767.90" x2="887.97" y2="770.60" stroke="#1a1a1a" stroke-width="1.2" />
<line x1="909.89" y1="767.90" x2="909.89" y2="770.60" stroke="#1a1a1a" stroke-width="1.2" />
<line x1="931.80" y1="767.90" x2="931.80" y2="770.60" stroke="#1a1a1a" stroke-width="1.2" />
<line x1="953.72" y1="767.90" x2="953.72" y2="772.20" stroke="#1a1a1a" stroke-width="1.3" />
<text transform="translate(953.22,784.00)" font-size="13" font-weight="bold" fill="#333" text-anchor="middle" >4.0</text>
<line x1="975.63" y1="767.90" x2="975.63" y2="770.60" stroke="#1a1a1a" stroke-width="1.2" />
<line x1="997.55" y1="767.90" x2="997.55" y2="770.60" stroke="#1a1a1a" stroke-width="1.2" />
<line x1="1019.46" y1="767.90" x2="1019.46" y2="770.60" stroke="#1a1a1a" stroke-width="1.2" />
<line x1="1041.38" y1="767.90" x2="1041.38" y2="772.20" stroke="#1a1a1a" stroke-width="1.3" />
<text transform="translate(1040.88,784.00)" font-size="13" font-weight="bold" fill="#333" text-anchor="middle" >6.0</text>
<line x1="1063.30" y1="767.90" x2="1063.30" y2="770.60" stroke="#1a1a1a" stroke-width="1.2" />
<line x1="1085.21" y1="767.90" x2="1085.21" y2="770.60" stroke="#1a1a1a" stroke-width="1.2" />
<line x1="1107.12" y1="767.90" x2="1107.12" y2="770.60" stroke="#1a1a1a" stroke-width="1.2" />
<line x1="1129.04" y1="767.90" x2="1129.04" y2="772.20" stroke="#1a1a1a" stroke-width="1.3" />
<text transform="translate(1128.54,784.00)" font-size="13" font-weight="bold" fill="#333" text-anchor="middle" >8.0</text>
<line x1="1150.95" y1="767.90" x2="1150.95" y2="770.60" stroke="#1a1a1a" stroke-width="1.2" />
<line x1="1172.87" y1="767.90" x2="1172.87" y2="770.60" stroke="#1a1a1a" stroke-width="1.2" />
<line x1="1194.78" y1="767.90" x2="1194.78" y2="770.60" stroke="#1a1a1a" stroke-width="1.2" />
<line x1="1216.70" y1="767.90" x2="1216.70" y2="772.20" stroke="#1a1a1a" stroke-width="1.3" />
<text transform="translate(1216.20,784.00)" font-size="13" font-weight="bold" fill="#333" text-anchor="middle" >10.0</text>
<line x1="1238.62" y1="767.90" x2="1238.62" y2="770.60" stroke="#1a1a1a" stroke-width="1.2" />
<line x1="1260.53" y1="767.90" x2="1260.53" y2="770.60" stroke="#1a1a1a" stroke-width="1.2" />
<line x1="1282.44" y1="767.90" x2="1282.44" y2="770.60" stroke="#1a1a1a" stroke-width="1.2" />
<line x1="1304.36" y1="767.90" x2="1304.36" y2="772.20" stroke="#1a1a1a" stroke-width="1.3" />
<text transform="translate(1303.86,784.00)" font-size="13" font-weight="bold" fill="#333" text-anchor="middle" >12.0</text>
<line x1="1326.28" y1="767.90" x2="1326.28" y2="770.60" stroke="#1a1a1a" stroke-width="1.2" />
<line x1="1348.19" y1="767.90" x2="1348.19" y2="770.60" stroke="#1a1a1a" stroke-width="1.2" />
<line x1="1370.11" y1="767.90" x2="1370.11" y2="770.60" stroke="#1a1a1a" stroke-width="1.2" />
<line x1="1392.02" y1="767.90" x2="1392.02" y2="772.20" stroke="#1a1a1a" stroke-width="1.3" />
<text transform="translate(1391.52,784.00)" font-size="13" font-weight="bold" fill="#333" text-anchor="middle" >14.0</text>
<line x1="1413.93" y1="767.90" x2="1413.93" y2="770.60" stroke="#1a1a1a" stroke-width="1.2" />
<line x1="1435.85" y1="767.90" x2="1435.85" y2="770.60" stroke="#1a1a1a" stroke-width="1.2" />
<line x1="1457.76" y1="767.90" x2="1457.76" y2="770.60" stroke="#1a1a1a" stroke-width="1.2" />
<line x1="1479.68" y1="767.90" x2="1479.68" y2="772.20" stroke="#1a1a1a" stroke-width="1.3" />
<text transform="translate(1479.18,784.00)" font-size="13" font-weight="bold" fill="#333" text-anchor="middle" >16.0</text>
<path d="M778.4,735.6 L850,736 L888.9,736.2 L889.4,700 L889.6,333.8 L890.3,331 L891.0,200 L891.7,120 L892.2,81.5 L892.7,120 L893.4,200 L894.4,330 L895,500 L896,660 L897,705 C898,725 899,733 903,735.8 L921.6,736.2 L922.1,700 L922.2,333.4 L922.6,405 L923.2,410.4 C927,404 933,388 938.5,370 C942,357 946,336 950.5,320.9 C953,322 955,328 956.5,336.8 C958.5,350 960,375 960.6,420 L961.6,600 L962.2,716.7 C963,728 965,734 969,735.5 L981.3,736.2 L1270,736.2 C1276,736 1279,734 1281,729 C1283,724.6 1285,724.6 1287,729 C1289,734 1291,736 1296,736.2 L1380,736.2 C1420,736 1450,734.5 1479.6,732.2" fill="none" stroke="#111" stroke-width="2.2" stroke-linejoin="round"/>
<text transform="translate(695.40,33.90) scale(1.06,1)" font-size="46" font-weight="bold" fill="#000" text-anchor="start" stroke="#000" stroke-width="0.7" stroke-linejoin="round" >d</text>
<text transform="translate(782.00,63.30)" font-size="12" font-weight="bold" fill="#2b2b45" text-anchor="start" >counts</text>
<text transform="translate(1452.00,757.60)" font-size="13.5" font-weight="bold" fill="#1d2450" text-anchor="start" >min</text>
<text x="818.3" y="102.8" font-size="27.5" fill="#000">O<tspan font-size="17.5" dy="9">2</tspan><tspan dy="-9">/Ar</tspan></text>
<text x="919.6" y="305.1" font-size="25" fill="#000">N<tspan font-size="17" dy="9.5">2</tspan></text>
<text transform="translate(723.00,513.10) rotate(-90)" font-size="35" font-weight="normal" fill="#000" text-anchor="start" >Intensity (a.u.)</text>
<text transform="translate(1098.50,822.00)" font-size="35" font-weight="normal" fill="#000" text-anchor="start" >R.T</text>
<rect x="1224.8" y="708.1" width="118" height="40.4" fill="none" stroke="#FF0000" stroke-width="6" stroke-dasharray="0 13.8" stroke-linecap="round"/>
<text transform="translate(1262.00,694.00)" font-size="27" font-weight="normal" fill="#FF0000" text-anchor="start" >CO</text>
<line x1="1009.60" y1="511.30" x2="1224.80" y2="705.70" stroke="#FF0000" stroke-width="2.0" stroke-dasharray="7.5 13.3"/>
<line x1="1468.40" y1="515.40" x2="1342.80" y2="706.40" stroke="#FF0000" stroke-width="1.8" stroke-dasharray="5.5 1.2 5.5 6.5"/>
<rect x="1036" y="55" width="440" height="450" fill="#fff"/>
<rect x="1038.8" y="61.5" width="428.5" height="437.3" fill="none" stroke="#1a1a1a" stroke-width="1.3"/>
<rect x="1036.20" y="61.50" width="2.60" height="439.10" fill="#C8C8C8" />
<rect x="1036.20" y="498.80" width="431.10" height="1.80" fill="#C8C8C8" />
<line x1="1036.20" y1="61.50" x2="1036.20" y2="500.60" stroke="#1a1a1a" stroke-width="1.2" />
<line x1="1038.20" y1="500.60" x2="1467.60" y2="500.60" stroke="#1a1a1a" stroke-width="1.2" />
<line x1="1358.90" y1="65.10" x2="1465.40" y2="65.10" stroke="#BBBBBB" stroke-width="1.3" />
<line x1="1465.40" y1="65.10" x2="1465.40" y2="172.00" stroke="#EEEEEE" stroke-width="0.8" />
<line x1="1033.20" y1="498.40" x2="1036.20" y2="498.40" stroke="#1a1a1a" stroke-width="1.0" />
<text transform="translate(1032.80,501.10)" font-size="7.6" font-weight="bold" fill="#333" text-anchor="end" >2.0e6</text>
<line x1="1034.60" y1="489.29" x2="1036.20" y2="489.29" stroke="#1a1a1a" stroke-width="0.8" />
<line x1="1034.60" y1="480.17" x2="1036.20" y2="480.17" stroke="#1a1a1a" stroke-width="0.8" />
<line x1="1034.60" y1="471.06" x2="1036.20" y2="471.06" stroke="#1a1a1a" stroke-width="0.8" />
<line x1="1033.20" y1="461.95" x2="1036.20" y2="461.95" stroke="#1a1a1a" stroke-width="1.0" />
<text transform="translate(1032.80,464.65)" font-size="7.6" font-weight="bold" fill="#333" text-anchor="end" >4.0e6</text>
<line x1="1034.60" y1="452.84" x2="1036.20" y2="452.84" stroke="#1a1a1a" stroke-width="0.8" />
<line x1="1034.60" y1="443.72" x2="1036.20" y2="443.72" stroke="#1a1a1a" stroke-width="0.8" />
<line x1="1034.60" y1="434.61" x2="1036.20" y2="434.61" stroke="#1a1a1a" stroke-width="0.8" />
<line x1="1033.20" y1="425.50" x2="1036.20" y2="425.50" stroke="#1a1a1a" stroke-width="1.0" />
<text transform="translate(1032.80,428.20)" font-size="7.6" font-weight="bold" fill="#333" text-anchor="end" >6.0e6</text>
<line x1="1034.60" y1="416.39" x2="1036.20" y2="416.39" stroke="#1a1a1a" stroke-width="0.8" />
<line x1="1034.60" y1="407.27" x2="1036.20" y2="407.27" stroke="#1a1a1a" stroke-width="0.8" />
<line x1="1034.60" y1="398.16" x2="1036.20" y2="398.16" stroke="#1a1a1a" stroke-width="0.8" />
<line x1="1033.20" y1="389.05" x2="1036.20" y2="389.05" stroke="#1a1a1a" stroke-width="1.0" />
<text transform="translate(1032.80,391.75)" font-size="7.6" font-weight="bold" fill="#333" text-anchor="end" >8.0e6</text>
<line x1="1034.60" y1="379.94" x2="1036.20" y2="379.94" stroke="#1a1a1a" stroke-width="0.8" />
<line x1="1034.60" y1="370.82" x2="1036.20" y2="370.82" stroke="#1a1a1a" stroke-width="0.8" />
<line x1="1034.60" y1="361.71" x2="1036.20" y2="361.71" stroke="#1a1a1a" stroke-width="0.8" />
<line x1="1033.20" y1="352.60" x2="1036.20" y2="352.60" stroke="#1a1a1a" stroke-width="1.0" />
<text transform="translate(1032.80,355.30)" font-size="7.6" font-weight="bold" fill="#333" text-anchor="end" >1.0e7</text>
<line x1="1034.60" y1="343.49" x2="1036.20" y2="343.49" stroke="#1a1a1a" stroke-width="0.8" />
<line x1="1034.60" y1="334.38" x2="1036.20" y2="334.38" stroke="#1a1a1a" stroke-width="0.8" />
<line x1="1034.60" y1="325.26" x2="1036.20" y2="325.26" stroke="#1a1a1a" stroke-width="0.8" />
<line x1="1033.20" y1="316.15" x2="1036.20" y2="316.15" stroke="#1a1a1a" stroke-width="1.0" />
<text transform="translate(1032.80,318.85)" font-size="7.6" font-weight="bold" fill="#333" text-anchor="end" >1.2e7</text>
<line x1="1034.60" y1="307.04" x2="1036.20" y2="307.04" stroke="#1a1a1a" stroke-width="0.8" />
<line x1="1034.60" y1="297.92" x2="1036.20" y2="297.92" stroke="#1a1a1a" stroke-width="0.8" />
<line x1="1034.60" y1="288.81" x2="1036.20" y2="288.81" stroke="#1a1a1a" stroke-width="0.8" />
<line x1="1033.20" y1="279.70" x2="1036.20" y2="279.70" stroke="#1a1a1a" stroke-width="1.0" />
<text transform="translate(1032.80,282.40)" font-size="7.6" font-weight="bold" fill="#333" text-anchor="end" >1.4e7</text>
<line x1="1034.60" y1="270.59" x2="1036.20" y2="270.59" stroke="#1a1a1a" stroke-width="0.8" />
<line x1="1034.60" y1="261.47" x2="1036.20" y2="261.47" stroke="#1a1a1a" stroke-width="0.8" />
<line x1="1034.60" y1="252.36" x2="1036.20" y2="252.36" stroke="#1a1a1a" stroke-width="0.8" />
<line x1="1033.20" y1="243.25" x2="1036.20" y2="243.25" stroke="#1a1a1a" stroke-width="1.0" />
<text transform="translate(1032.80,245.95)" font-size="7.6" font-weight="bold" fill="#333" text-anchor="end" >1.6e7</text>
<line x1="1034.60" y1="234.14" x2="1036.20" y2="234.14" stroke="#1a1a1a" stroke-width="0.8" />
<line x1="1034.60" y1="225.02" x2="1036.20" y2="225.02" stroke="#1a1a1a" stroke-width="0.8" />
<line x1="1034.60" y1="215.91" x2="1036.20" y2="215.91" stroke="#1a1a1a" stroke-width="0.8" />
<line x1="1033.20" y1="206.80" x2="1036.20" y2="206.80" stroke="#1a1a1a" stroke-width="1.0" />
<text transform="translate(1032.80,209.50)" font-size="7.6" font-weight="bold" fill="#333" text-anchor="end" >1.8e7</text>
<line x1="1034.60" y1="197.69" x2="1036.20" y2="197.69" stroke="#1a1a1a" stroke-width="0.8" />
<line x1="1034.60" y1="188.57" x2="1036.20" y2="188.57" stroke="#1a1a1a" stroke-width="0.8" />
<line x1="1034.60" y1="179.46" x2="1036.20" y2="179.46" stroke="#1a1a1a" stroke-width="0.8" />
<line x1="1033.20" y1="170.35" x2="1036.20" y2="170.35" stroke="#1a1a1a" stroke-width="1.0" />
<text transform="translate(1032.80,173.05)" font-size="7.6" font-weight="bold" fill="#333" text-anchor="end" >2.0e7</text>
<line x1="1034.60" y1="161.24" x2="1036.20" y2="161.24" stroke="#1a1a1a" stroke-width="0.8" />
<line x1="1034.60" y1="152.12" x2="1036.20" y2="152.12" stroke="#1a1a1a" stroke-width="0.8" />
<line x1="1034.60" y1="143.01" x2="1036.20" y2="143.01" stroke="#1a1a1a" stroke-width="0.8" />
<line x1="1033.20" y1="133.90" x2="1036.20" y2="133.90" stroke="#1a1a1a" stroke-width="1.0" />
<text transform="translate(1032.80,136.60)" font-size="7.6" font-weight="bold" fill="#333" text-anchor="end" >2.2e7</text>
<line x1="1034.60" y1="124.79" x2="1036.20" y2="124.79" stroke="#1a1a1a" stroke-width="0.8" />
<line x1="1034.60" y1="115.67" x2="1036.20" y2="115.67" stroke="#1a1a1a" stroke-width="0.8" />
<line x1="1034.60" y1="106.56" x2="1036.20" y2="106.56" stroke="#1a1a1a" stroke-width="0.8" />
<line x1="1033.20" y1="97.45" x2="1036.20" y2="97.45" stroke="#1a1a1a" stroke-width="1.0" />
<text transform="translate(1032.80,100.15)" font-size="7.6" font-weight="bold" fill="#333" text-anchor="end" >2.4e7</text>
<line x1="1034.60" y1="88.34" x2="1036.20" y2="88.34" stroke="#1a1a1a" stroke-width="0.8" />
<line x1="1034.60" y1="79.22" x2="1036.20" y2="79.22" stroke="#1a1a1a" stroke-width="0.8" />
<line x1="1034.60" y1="70.11" x2="1036.20" y2="70.11" stroke="#1a1a1a" stroke-width="0.8" />
<line x1="1033.20" y1="61.00" x2="1036.20" y2="61.00" stroke="#1a1a1a" stroke-width="1.0" />
<text transform="translate(1032.80,63.70)" font-size="7.6" font-weight="bold" fill="#333" text-anchor="end" >2.6e7</text>
<line x1="1043.96" y1="500.60" x2="1043.96" y2="502.60" stroke="#1a1a1a" stroke-width="0.9" />
<line x1="1057.36" y1="500.60" x2="1057.36" y2="503.20" stroke="#1a1a1a" stroke-width="0.9" />
<line x1="1070.76" y1="500.60" x2="1070.76" y2="502.60" stroke="#1a1a1a" stroke-width="0.9" />
<line x1="1084.16" y1="500.60" x2="1084.16" y2="502.60" stroke="#1a1a1a" stroke-width="0.9" />
<line x1="1097.56" y1="500.60" x2="1097.56" y2="502.60" stroke="#1a1a1a" stroke-width="0.9" />
<line x1="1110.96" y1="500.60" x2="1110.96" y2="502.60" stroke="#1a1a1a" stroke-width="0.9" />
<line x1="1124.36" y1="500.60" x2="1124.36" y2="503.20" stroke="#1a1a1a" stroke-width="0.9" />
<line x1="1137.76" y1="500.60" x2="1137.76" y2="502.60" stroke="#1a1a1a" stroke-width="0.9" />
<line x1="1151.16" y1="500.60" x2="1151.16" y2="502.60" stroke="#1a1a1a" stroke-width="0.9" />
<line x1="1164.56" y1="500.60" x2="1164.56" y2="502.60" stroke="#1a1a1a" stroke-width="0.9" />
<line x1="1177.96" y1="500.60" x2="1177.96" y2="502.60" stroke="#1a1a1a" stroke-width="0.9" />
<line x1="1191.36" y1="500.60" x2="1191.36" y2="503.20" stroke="#1a1a1a" stroke-width="0.9" />
<line x1="1204.76" y1="500.60" x2="1204.76" y2="502.60" stroke="#1a1a1a" stroke-width="0.9" />
<line x1="1218.16" y1="500.60" x2="1218.16" y2="502.60" stroke="#1a1a1a" stroke-width="0.9" />
<line x1="1231.56" y1="500.60" x2="1231.56" y2="502.60" stroke="#1a1a1a" stroke-width="0.9" />
<line x1="1244.96" y1="500.60" x2="1244.96" y2="502.60" stroke="#1a1a1a" stroke-width="0.9" />
<line x1="1258.36" y1="500.60" x2="1258.36" y2="503.20" stroke="#1a1a1a" stroke-width="0.9" />
<line x1="1271.76" y1="500.60" x2="1271.76" y2="502.60" stroke="#1a1a1a" stroke-width="0.9" />
<line x1="1285.16" y1="500.60" x2="1285.16" y2="502.60" stroke="#1a1a1a" stroke-width="0.9" />
<line x1="1298.56" y1="500.60" x2="1298.56" y2="502.60" stroke="#1a1a1a" stroke-width="0.9" />
<line x1="1311.96" y1="500.60" x2="1311.96" y2="502.60" stroke="#1a1a1a" stroke-width="0.9" />
<line x1="1325.36" y1="500.60" x2="1325.36" y2="503.20" stroke="#1a1a1a" stroke-width="0.9" />
<line x1="1338.76" y1="500.60" x2="1338.76" y2="502.60" stroke="#1a1a1a" stroke-width="0.9" />
<line x1="1352.16" y1="500.60" x2="1352.16" y2="502.60" stroke="#1a1a1a" stroke-width="0.9" />
<line x1="1365.56" y1="500.60" x2="1365.56" y2="502.60" stroke="#1a1a1a" stroke-width="0.9" />
<line x1="1378.96" y1="500.60" x2="1378.96" y2="502.60" stroke="#1a1a1a" stroke-width="0.9" />
<line x1="1392.36" y1="500.60" x2="1392.36" y2="503.20" stroke="#1a1a1a" stroke-width="0.9" />
<line x1="1405.76" y1="500.60" x2="1405.76" y2="502.60" stroke="#1a1a1a" stroke-width="0.9" />
<line x1="1419.16" y1="500.60" x2="1419.16" y2="502.60" stroke="#1a1a1a" stroke-width="0.9" />
<line x1="1432.56" y1="500.60" x2="1432.56" y2="502.60" stroke="#1a1a1a" stroke-width="0.9" />
<line x1="1445.96" y1="500.60" x2="1445.96" y2="502.60" stroke="#1a1a1a" stroke-width="0.9" />
<line x1="1459.36" y1="500.60" x2="1459.36" y2="503.20" stroke="#1a1a1a" stroke-width="0.9" />
<line x1="1038.60" y1="500.60" x2="1038.60" y2="503.50" stroke="#1a1a1a" stroke-width="1.0" />
<text transform="translate(1038.60,510.40)" font-size="7.6" font-weight="bold" fill="#333" text-anchor="middle" >9.86</text>
<line x1="1124.36" y1="500.60" x2="1124.36" y2="503.50" stroke="#1a1a1a" stroke-width="1.0" />
<text transform="translate(1124.36,510.40)" font-size="7.6" font-weight="bold" fill="#333" text-anchor="middle" >10.50</text>
<line x1="1191.36" y1="500.60" x2="1191.36" y2="503.50" stroke="#1a1a1a" stroke-width="1.0" />
<text transform="translate(1191.36,510.40)" font-size="7.6" font-weight="bold" fill="#333" text-anchor="middle" >11.00</text>
<line x1="1258.36" y1="500.60" x2="1258.36" y2="503.50" stroke="#1a1a1a" stroke-width="1.0" />
<text transform="translate(1258.36,510.40)" font-size="7.6" font-weight="bold" fill="#333" text-anchor="middle" >11.50</text>
<line x1="1325.36" y1="500.60" x2="1325.36" y2="503.50" stroke="#1a1a1a" stroke-width="1.0" />
<text transform="translate(1325.36,510.40)" font-size="7.6" font-weight="bold" fill="#333" text-anchor="middle" >12.00</text>
<line x1="1392.36" y1="500.60" x2="1392.36" y2="503.50" stroke="#1a1a1a" stroke-width="1.0" />
<text transform="translate(1392.36,510.40)" font-size="7.6" font-weight="bold" fill="#333" text-anchor="middle" >12.50</text>
<line x1="1467.40" y1="500.60" x2="1467.40" y2="503.50" stroke="#1a1a1a" stroke-width="1.0" />
<text transform="translate(1467.40,510.40)" font-size="7.6" font-weight="bold" fill="#333" text-anchor="middle" >13.06</text>
<polyline points="1039.50,454.89 1041.00,455.25 1042.50,455.04 1044.00,455.32 1045.50,455.35 1047.00,454.68 1048.50,454.62 1050.00,455.60 1051.50,454.91 1053.00,454.88 1054.50,455.79 1056.00,455.16 1057.50,455.60 1059.00,455.17 1060.50,455.37 1062.00,454.78 1063.50,455.36 1065.00,455.64 1066.50,455.23 1068.00,455.49 1069.50,455.41 1071.00,454.68 1072.50,455.51 1074.00,455.31 1075.50,454.96 1077.00,454.64 1078.50,455.64 1080.00,455.17 1081.50,455.46 1083.00,455.65 1084.50,455.46 1086.00,455.71 1087.50,455.07 1089.00,455.56 1090.50,455.13 1092.00,455.72 1093.50,455.65 1095.00,454.72 1096.50,454.76 1098.00,454.86 1099.50,455.76 1101.00,455.12 1102.50,455.35 1104.00,454.96 1105.50,455.21 1107.00,455.06 1108.50,455.02 1110.00,455.30 1111.50,455.30 1113.00,455.69 1114.50,455.42 1116.00,455.71 1117.50,455.63 1119.00,455.79 1120.50,455.41 1122.00,454.80 1123.50,455.63 1125.00,455.76 1126.50,455.69 1128.00,455.28 1129.50,455.46 1131.00,454.85 1132.50,455.60 1134.00,455.29 1135.50,454.94 1137.00,454.68 1138.50,455.62 1140.00,455.79 1141.50,454.71 1143.00,455.56 1144.50,455.09 1146.00,454.78 1147.50,454.95 1149.00,455.52 1150.50,455.65 1152.00,454.65 1153.50,455.34 1155.00,454.65 1156.50,455.46 1158.00,455.00 1159.50,455.66 1161.00,455.78 1162.50,455.21 1164.00,455.80 1165.50,454.97 1167.00,454.69 1168.50,455.32 1170.00,454.64 1171.50,454.84 1173.00,455.09 1174.50,455.33 1176.00,454.79 1177.50,454.65 1179.00,455.64 1180.50,454.98 1182.00,455.75 1183.50,455.68 1185.00,455.05 1186.50,455.15 1188.00,455.22 1189.50,455.37 1191.00,455.31 1192.50,455.27 1194.00,455.34 1195.50,455.73 1197.00,455.21 1198.50,455.12 1200.00,455.46 1201.50,454.88 1203.00,454.96 1204.50,455.77 1206.00,455.22 1207.50,455.25 1209.00,454.60 1210.50,455.07 1212.00,455.26 1213.50,454.58 1215.00,455.28 1216.50,455.28 1218.00,454.56 1219.50,455.21 1221.00,454.98 1222.50,455.18 1224.00,454.71 1225.50,455.05 1226.20,455.04 1226.90,454.12 1227.60,454.10 1228.30,454.76 1229.00,455.02 1229.70,454.06 1230.40,454.18 1231.10,454.20 1231.80,453.70 1232.50,453.55 1233.20,453.24 1233.90,453.01 1234.60,452.91 1235.30,452.12 1236.00,451.67 1236.70,451.49 1237.40,449.81 1238.10,449.50 1238.80,448.55 1239.50,446.65 1240.20,444.89 1240.90,443.61 1241.60,440.60 1242.30,437.78 1243.00,434.85 1243.70,431.40 1244.40,426.32 1245.10,421.58 1245.80,415.87 1246.50,409.98 1247.20,402.19 1247.90,394.51 1248.60,384.60 1249.30,374.80 1250.00,364.25 1250.70,352.68 1251.40,339.43 1252.10,325.59 1252.80,311.13 1253.50,296.62 1254.20,280.67 1254.90,265.47 1255.60,249.33 1256.30,232.33 1257.00,216.38 1257.70,201.32 1258.40,186.02 1259.10,171.94 1259.80,158.16 1260.50,145.92 1261.20,135.61 1261.90,127.34 1262.60,119.64 1263.30,114.59 1264.00,111.55 1264.70,110.50 1265.40,111.54 1266.10,115.28 1266.80,119.50 1267.50,126.39 1268.20,136.39 1268.90,146.82 1269.60,158.93 1270.30,171.50 1271.00,186.39 1271.70,201.46 1272.40,216.31 1273.10,233.00 1273.80,249.33 1274.50,265.30 1275.20,281.06 1275.90,296.33 1276.60,311.39 1277.30,325.59 1278.00,338.97 1278.70,352.33 1279.40,363.81 1280.10,375.37 1280.80,384.45 1281.50,394.56 1282.20,402.49 1282.90,410.08 1283.60,416.54 1284.30,422.27 1285.00,426.90 1285.70,430.58 1286.40,435.22 1287.10,437.76 1287.80,440.67 1288.50,443.45 1289.20,445.25 1289.90,446.78 1290.60,448.79 1291.30,449.55 1292.00,450.19 1292.70,450.87 1293.40,452.25 1294.10,452.33 1294.80,453.14 1295.50,452.99 1296.20,453.10 1296.90,453.75 1297.60,454.30 1298.30,453.70 1299.00,454.59 1299.70,454.86 1300.40,454.83 1301.10,454.94 1301.80,454.04 1302.50,454.85 1303.20,455.19 1303.90,454.26 1304.60,454.57 1305.30,454.61 1306.80,454.99 1308.30,454.92 1309.80,455.02 1311.30,455.42 1312.80,454.52 1314.30,454.60 1315.80,454.71 1317.30,454.72 1318.80,454.66 1320.30,455.75 1321.80,455.61 1323.30,454.69 1324.80,455.20 1326.30,454.97 1327.80,454.97 1329.30,455.02 1330.80,455.37 1332.30,455.30 1333.80,455.03 1335.30,454.83 1336.80,454.99 1338.30,454.75 1339.80,455.27 1341.30,455.46 1342.80,455.06 1344.30,454.70 1345.80,454.81 1347.30,455.05 1348.80,455.33 1350.30,455.54 1351.80,455.06 1353.30,455.56 1354.80,455.35 1356.30,455.12 1357.80,455.05 1359.30,455.20 1360.80,455.44 1362.30,455.10 1363.80,455.43 1365.30,455.15 1366.80,454.89 1368.30,455.24 1369.80,455.43 1371.30,454.69 1372.80,455.11 1374.30,455.11 1375.80,455.66 1377.30,455.72 1378.80,455.05 1380.30,455.68 1381.80,455.55 1383.30,454.91 1384.80,455.16 1386.30,454.75 1387.80,455.58 1389.30,455.39 1390.80,455.66 1392.30,455.55 1393.80,455.40 1395.30,455.48 1396.80,455.28 1398.30,454.72 1399.80,455.31 1401.30,454.61 1402.80,454.77 1404.30,455.53 1405.80,454.65 1407.30,454.71 1408.80,454.72 1410.30,455.66 1411.80,454.81 1413.30,454.63 1414.80,455.61 1416.30,454.75 1417.80,455.61 1419.30,455.41 1420.80,455.60 1422.30,455.74 1423.80,455.29 1425.30,455.56 1426.80,454.64 1428.30,455.52 1429.80,455.21 1431.30,455.46 1432.80,454.73 1434.30,455.50 1435.80,455.72 1437.30,454.67 1438.80,454.99 1440.30,455.28 1441.80,455.59 1443.30,454.89 1444.80,454.82 1446.30,454.90 1447.80,455.34 1449.30,455.50 1450.80,455.07 1452.30,455.04 1453.80,455.08 1455.30,455.02 1456.80,455.10 1458.30,454.70 1459.80,455.20 1461.30,455.77 1462.80,455.10 1464.30,455.50 1465.80,454.79" fill="none" stroke="#111" stroke-width="1.8" stroke-linejoin="round" stroke-linecap="round" />
<text transform="translate(1041.00,70.90)" font-size="8" font-weight="bold" fill="#2b2b45" text-anchor="start" >counts</text>
<text transform="translate(1450.60,494.30)" font-size="8.5" font-weight="bold" fill="#1d2450" text-anchor="start" >min</text>
<text transform="translate(1172.70,99.10)" font-size="28.3" font-weight="normal" fill="#FF0000" text-anchor="start" >CO (R.T=11.57)</text>
<text transform="translate(1240.50,534.80)" font-size="21" font-weight="normal" fill="#000" text-anchor="start" >R.T</text>
<text transform="translate(1001.80,347.80) rotate(-90)" font-size="19" font-weight="normal" fill="#000" text-anchor="start" >Intensity (a.u.)</text>
<rect x="778.0" y="881.8" width="701.4" height="733.8" fill="none" stroke="#1a1a1a" stroke-width="1.5"/>
<line x1="775.30" y1="881.80" x2="775.30" y2="1616.20" stroke="#1a1a1a" stroke-width="1.3" />
<line x1="777.40" y1="1619.60" x2="1479.80" y2="1619.60" stroke="#1a1a1a" stroke-width="1.3" />
<line x1="770.20" y1="1615.02" x2="775.30" y2="1615.02" stroke="#1a1a1a" stroke-width="1.3" />
<line x1="771.60" y1="1598.36" x2="775.30" y2="1598.36" stroke="#1a1a1a" stroke-width="1.1" />
<line x1="770.20" y1="1581.70" x2="775.30" y2="1581.70" stroke="#1a1a1a" stroke-width="1.3" />
<line x1="771.60" y1="1565.04" x2="775.30" y2="1565.04" stroke="#1a1a1a" stroke-width="1.1" />
<line x1="771.60" y1="1548.38" x2="775.30" y2="1548.38" stroke="#1a1a1a" stroke-width="1.1" />
<line x1="771.60" y1="1531.72" x2="775.30" y2="1531.72" stroke="#1a1a1a" stroke-width="1.1" />
<line x1="770.20" y1="1515.06" x2="775.30" y2="1515.06" stroke="#1a1a1a" stroke-width="1.3" />
<line x1="771.60" y1="1498.40" x2="775.30" y2="1498.40" stroke="#1a1a1a" stroke-width="1.1" />
<line x1="771.60" y1="1481.74" x2="775.30" y2="1481.74" stroke="#1a1a1a" stroke-width="1.1" />
<line x1="771.60" y1="1465.08" x2="775.30" y2="1465.08" stroke="#1a1a1a" stroke-width="1.1" />
<line x1="770.20" y1="1448.42" x2="775.30" y2="1448.42" stroke="#1a1a1a" stroke-width="1.3" />
<line x1="771.60" y1="1431.76" x2="775.30" y2="1431.76" stroke="#1a1a1a" stroke-width="1.1" />
<line x1="771.60" y1="1415.10" x2="775.30" y2="1415.10" stroke="#1a1a1a" stroke-width="1.1" />
<line x1="771.60" y1="1398.44" x2="775.30" y2="1398.44" stroke="#1a1a1a" stroke-width="1.1" />
<line x1="770.20" y1="1381.78" x2="775.30" y2="1381.78" stroke="#1a1a1a" stroke-width="1.3" />
<line x1="771.60" y1="1365.12" x2="775.30" y2="1365.12" stroke="#1a1a1a" stroke-width="1.1" />
<line x1="771.60" y1="1348.46" x2="775.30" y2="1348.46" stroke="#1a1a1a" stroke-width="1.1" />
<line x1="771.60" y1="1331.80" x2="775.30" y2="1331.80" stroke="#1a1a1a" stroke-width="1.1" />
<line x1="770.20" y1="1315.14" x2="775.30" y2="1315.14" stroke="#1a1a1a" stroke-width="1.3" />
<line x1="771.60" y1="1298.48" x2="775.30" y2="1298.48" stroke="#1a1a1a" stroke-width="1.1" />
<line x1="771.60" y1="1281.82" x2="775.30" y2="1281.82" stroke="#1a1a1a" stroke-width="1.1" />
<line x1="771.60" y1="1265.16" x2="775.30" y2="1265.16" stroke="#1a1a1a" stroke-width="1.1" />
<line x1="770.20" y1="1248.50" x2="775.30" y2="1248.50" stroke="#1a1a1a" stroke-width="1.3" />
<line x1="771.60" y1="1231.84" x2="775.30" y2="1231.84" stroke="#1a1a1a" stroke-width="1.1" />
<line x1="771.60" y1="1215.18" x2="775.30" y2="1215.18" stroke="#1a1a1a" stroke-width="1.1" />
<line x1="771.60" y1="1198.52" x2="775.30" y2="1198.52" stroke="#1a1a1a" stroke-width="1.1" />
<line x1="770.20" y1="1181.86" x2="775.30" y2="1181.86" stroke="#1a1a1a" stroke-width="1.3" />
<line x1="771.60" y1="1165.20" x2="775.30" y2="1165.20" stroke="#1a1a1a" stroke-width="1.1" />
<line x1="771.60" y1="1148.54" x2="775.30" y2="1148.54" stroke="#1a1a1a" stroke-width="1.1" />
<line x1="771.60" y1="1131.88" x2="775.30" y2="1131.88" stroke="#1a1a1a" stroke-width="1.1" />
<line x1="770.20" y1="1115.22" x2="775.30" y2="1115.22" stroke="#1a1a1a" stroke-width="1.3" />
<line x1="771.60" y1="1098.56" x2="775.30" y2="1098.56" stroke="#1a1a1a" stroke-width="1.1" />
<line x1="771.60" y1="1081.90" x2="775.30" y2="1081.90" stroke="#1a1a1a" stroke-width="1.1" />
<line x1="771.60" y1="1065.24" x2="775.30" y2="1065.24" stroke="#1a1a1a" stroke-width="1.1" />
<line x1="770.20" y1="1048.58" x2="775.30" y2="1048.58" stroke="#1a1a1a" stroke-width="1.3" />
<line x1="771.60" y1="1031.92" x2="775.30" y2="1031.92" stroke="#1a1a1a" stroke-width="1.1" />
<line x1="771.60" y1="1015.26" x2="775.30" y2="1015.26" stroke="#1a1a1a" stroke-width="1.1" />
<line x1="771.60" y1="998.60" x2="775.30" y2="998.60" stroke="#1a1a1a" stroke-width="1.1" />
<line x1="770.20" y1="981.94" x2="775.30" y2="981.94" stroke="#1a1a1a" stroke-width="1.3" />
<line x1="771.60" y1="965.28" x2="775.30" y2="965.28" stroke="#1a1a1a" stroke-width="1.1" />
<line x1="771.60" y1="948.62" x2="775.30" y2="948.62" stroke="#1a1a1a" stroke-width="1.1" />
<line x1="771.60" y1="931.96" x2="775.30" y2="931.96" stroke="#1a1a1a" stroke-width="1.1" />
<line x1="770.20" y1="915.30" x2="775.30" y2="915.30" stroke="#1a1a1a" stroke-width="1.3" />
<line x1="771.60" y1="898.64" x2="775.30" y2="898.64" stroke="#1a1a1a" stroke-width="1.1" />
<line x1="770.20" y1="881.98" x2="775.30" y2="881.98" stroke="#1a1a1a" stroke-width="1.3" />
<line x1="770.20" y1="881.98" x2="775.30" y2="881.98" stroke="#1a1a1a" stroke-width="1.3" />
<text transform="translate(767.50,886.48)" font-size="12.6" font-weight="bold" fill="#333" text-anchor="end" >105</text>
<line x1="770.20" y1="915.30" x2="775.30" y2="915.30" stroke="#1a1a1a" stroke-width="1.3" />
<text transform="translate(767.50,919.80)" font-size="12.6" font-weight="bold" fill="#333" text-anchor="end" >100</text>
<line x1="770.20" y1="981.94" x2="775.30" y2="981.94" stroke="#1a1a1a" stroke-width="1.3" />
<text transform="translate(767.50,986.44)" font-size="12.6" font-weight="bold" fill="#333" text-anchor="end" >90</text>
<line x1="770.20" y1="1048.58" x2="775.30" y2="1048.58" stroke="#1a1a1a" stroke-width="1.3" />
<text transform="translate(767.50,1053.08)" font-size="12.6" font-weight="bold" fill="#333" text-anchor="end" >80</text>
<line x1="770.20" y1="1115.22" x2="775.30" y2="1115.22" stroke="#1a1a1a" stroke-width="1.3" />
<text transform="translate(767.50,1119.72)" font-size="12.6" font-weight="bold" fill="#333" text-anchor="end" >70</text>
<line x1="770.20" y1="1181.86" x2="775.30" y2="1181.86" stroke="#1a1a1a" stroke-width="1.3" />
<text transform="translate(767.50,1186.36)" font-size="12.6" font-weight="bold" fill="#333" text-anchor="end" >60</text>
<line x1="770.20" y1="1248.50" x2="775.30" y2="1248.50" stroke="#1a1a1a" stroke-width="1.3" />
<text transform="translate(767.50,1253.00)" font-size="12.6" font-weight="bold" fill="#333" text-anchor="end" >50</text>
<line x1="770.20" y1="1315.14" x2="775.30" y2="1315.14" stroke="#1a1a1a" stroke-width="1.3" />
<text transform="translate(767.50,1319.64)" font-size="12.6" font-weight="bold" fill="#333" text-anchor="end" >40</text>
<line x1="770.20" y1="1381.78" x2="775.30" y2="1381.78" stroke="#1a1a1a" stroke-width="1.3" />
<text transform="translate(767.50,1386.28)" font-size="12.6" font-weight="bold" fill="#333" text-anchor="end" >30</text>
<line x1="770.20" y1="1448.42" x2="775.30" y2="1448.42" stroke="#1a1a1a" stroke-width="1.3" />
<text transform="translate(767.50,1452.92)" font-size="12.6" font-weight="bold" fill="#333" text-anchor="end" >20</text>
<line x1="770.20" y1="1515.06" x2="775.30" y2="1515.06" stroke="#1a1a1a" stroke-width="1.3" />
<text transform="translate(767.50,1519.56)" font-size="12.6" font-weight="bold" fill="#333" text-anchor="end" >10</text>
<line x1="770.20" y1="1581.70" x2="775.30" y2="1581.70" stroke="#1a1a1a" stroke-width="1.3" />
<text transform="translate(767.50,1586.20)" font-size="12.6" font-weight="bold" fill="#333" text-anchor="end" >0</text>
<line x1="770.20" y1="1615.02" x2="775.30" y2="1615.02" stroke="#1a1a1a" stroke-width="1.3" />
<text transform="translate(767.50,1619.52)" font-size="12.6" font-weight="bold" fill="#333" text-anchor="end" >-5</text>
<line x1="799.47" y1="1619.60" x2="799.47" y2="1622.20" stroke="#1a1a1a" stroke-width="1.1" />
<line x1="835.24" y1="1619.60" x2="835.24" y2="1622.20" stroke="#1a1a1a" stroke-width="1.1" />
<line x1="871.01" y1="1619.60" x2="871.01" y2="1622.20" stroke="#1a1a1a" stroke-width="1.1" />
<line x1="942.57" y1="1619.60" x2="942.57" y2="1622.20" stroke="#1a1a1a" stroke-width="1.1" />
<line x1="978.34" y1="1619.60" x2="978.34" y2="1622.20" stroke="#1a1a1a" stroke-width="1.1" />
<line x1="1014.12" y1="1619.60" x2="1014.12" y2="1622.20" stroke="#1a1a1a" stroke-width="1.1" />
<line x1="1085.66" y1="1619.60" x2="1085.66" y2="1622.20" stroke="#1a1a1a" stroke-width="1.1" />
<line x1="1121.44" y1="1619.60" x2="1121.44" y2="1622.20" stroke="#1a1a1a" stroke-width="1.1" />
<line x1="1157.22" y1="1619.60" x2="1157.22" y2="1622.20" stroke="#1a1a1a" stroke-width="1.1" />
<line x1="1228.77" y1="1619.60" x2="1228.77" y2="1622.20" stroke="#1a1a1a" stroke-width="1.1" />
<line x1="1264.54" y1="1619.60" x2="1264.54" y2="1622.20" stroke="#1a1a1a" stroke-width="1.1" />
<line x1="1300.32" y1="1619.60" x2="1300.32" y2="1622.20" stroke="#1a1a1a" stroke-width="1.1" />
<line x1="1371.87" y1="1619.60" x2="1371.87" y2="1622.20" stroke="#1a1a1a" stroke-width="1.1" />
<line x1="1407.64" y1="1619.60" x2="1407.64" y2="1622.20" stroke="#1a1a1a" stroke-width="1.1" />
<line x1="1443.41" y1="1619.60" x2="1443.41" y2="1622.20" stroke="#1a1a1a" stroke-width="1.1" />
<line x1="778.00" y1="1619.60" x2="778.00" y2="1623.60" stroke="#1a1a1a" stroke-width="1.3" />
<text transform="translate(778.00,1634.80)" font-size="12.6" font-weight="bold" fill="#333" text-anchor="middle" >1.0</text>
<line x1="906.79" y1="1619.60" x2="906.79" y2="1623.60" stroke="#1a1a1a" stroke-width="1.3" />
<text transform="translate(906.79,1634.80)" font-size="12.6" font-weight="bold" fill="#333" text-anchor="middle" >10.0</text>
<line x1="1049.89" y1="1619.60" x2="1049.89" y2="1623.60" stroke="#1a1a1a" stroke-width="1.3" />
<text transform="translate(1049.89,1634.80)" font-size="12.6" font-weight="bold" fill="#333" text-anchor="middle" >20.0</text>
<line x1="1192.99" y1="1619.60" x2="1192.99" y2="1623.60" stroke="#1a1a1a" stroke-width="1.3" />
<text transform="translate(1192.99,1634.80)" font-size="12.6" font-weight="bold" fill="#333" text-anchor="middle" >30.0</text>
<line x1="1336.09" y1="1619.60" x2="1336.09" y2="1623.60" stroke="#1a1a1a" stroke-width="1.3" />
<text transform="translate(1336.09,1634.80)" font-size="12.6" font-weight="bold" fill="#333" text-anchor="middle" >40.0</text>
<line x1="1479.19" y1="1619.60" x2="1479.19" y2="1623.60" stroke="#1a1a1a" stroke-width="1.3" />
<text transform="translate(1479.19,1634.80)" font-size="12.6" font-weight="bold" fill="#333" text-anchor="middle" >50.0</text>
<line x1="778.00" y1="1581.60" x2="1479.40" y2="1581.60" stroke="#111" stroke-width="1.6" />
<line x1="949.72" y1="1581.60" x2="949.72" y2="1579.60" stroke="#111" stroke-width="2.0" />
<line x1="992.65" y1="1581.60" x2="992.65" y2="1580.20" stroke="#111" stroke-width="2.0" />
<line x1="1164.37" y1="1581.60" x2="1164.37" y2="1518.40" stroke="#111" stroke-width="2.2" />
<line x1="1178.68" y1="1581.60" x2="1178.68" y2="916.70" stroke="#111" stroke-width="2.2" />
<text transform="translate(700.60,876.70)" font-size="47" font-weight="bold" fill="#000" text-anchor="start" stroke="#000" stroke-width="0.7" stroke-linejoin="round" >e</text>
<text transform="translate(884.10,1098.20)" font-size="28.6" font-weight="normal" fill="#FF0000" text-anchor="start" >R.T=11.57</text>
<text transform="translate(1160.90,910.30)" font-size="28" font-weight="normal" fill="#FF0000" text-anchor="start" >29</text>
<text x="1146.8" y="942.8" font-size="27" fill="#FF0000"><tspan font-size="17" dy="-9.5">13</tspan><tspan dy="9.5">CO</tspan></text>
<text transform="translate(1146.20,1478.30)" font-size="27" font-weight="normal" fill="#0000FF" text-anchor="start" >28</text>
<text transform="translate(1141.50,1510.70)" font-size="27" font-weight="normal" fill="#0000FF" text-anchor="start" >CO</text>
<text transform="translate(932.80,1536.20)" font-size="27" font-weight="normal" fill="#FF0000" text-anchor="start" >13</text>
<text transform="translate(978.30,1539.70)" font-size="27" font-weight="normal" fill="#FF0000" text-anchor="start" >16</text>
<text x="928.8" y="1568.6" font-size="27" fill="#FF0000"><tspan font-size="17" dy="-9.5">13</tspan><tspan dy="9.5">C</tspan></text>
<text transform="translate(981.90,1571.90)" font-size="27" font-weight="normal" fill="#FF0000" text-anchor="start" >O</text>
<text transform="translate(1452.00,1608.00)" font-size="12" font-weight="bold" fill="#1d2450" text-anchor="start" >m/z</text>
<text transform="translate(1087.70,1669.90)" font-size="35" font-weight="normal" fill="#000" text-anchor="start" font-style="italic" >m/z</text>
<text transform="translate(723.00,1343.80) rotate(-90)" font-size="35" font-weight="normal" fill="#000" text-anchor="start" >Intensity (%)</text>
<defs><pattern id="p1" patternUnits="userSpaceOnUse" x="123.34" y="443.30" width="10.5" height="11.1"><rect width="10.5" height="11.1" fill="#FDD4B5"/><path d="M-10.5,-11.1L21.0,22.2M-10.5,22.2L21.0,-11.1" stroke="#FF8B38" stroke-width="1.6"/></pattern><pattern id="p2" patternUnits="userSpaceOnUse" x="142.27" y="443.30" width="7.4" height="7.4"><rect width="7.4" height="7.4" fill="#B7F1E0"/><path d="M-7.4,14.8L14.8,-7.4M-7.4,7.4L7.4,-7.4M0,14.8L14.8,0" stroke="#43DEAC" stroke-width="1.6"/></pattern><pattern id="p3" patternUnits="userSpaceOnUse" x="161.20" y="443.30" width="7.3" height="7.3"><rect width="7.3" height="7.3" fill="#C4B4DA"/><path d="M-7.3,-7.3L14.6,14.6M0,-7.3L14.6,7.3M-7.3,0L7.3,14.6" stroke="#9595CD" stroke-width="1.5"/></pattern><pattern id="p4" patternUnits="userSpaceOnUse" x="179.93" y="279.30" width="4.93" height="5.25"><rect width="4.93" height="5.25" fill="#F8C5DE"/><rect x="0" y="0" width="4.93" height="1.45" fill="#EE60A8"/><rect x="0" y="0" width="1.45" height="5.25" fill="#EE60A8"/></pattern><pattern id="p5" patternUnits="userSpaceOnUse" x="216.64" y="443.30" width="10.5" height="11.1"><rect width="10.5" height="11.1" fill="#FDD4B5"/><path d="M-10.5,-11.1L21.0,22.2M-10.5,22.2L21.0,-11.1" stroke="#FF8B38" stroke-width="1.6"/></pattern><pattern id="p6" patternUnits="userSpaceOnUse" x="235.57" y="443.30" width="7.4" height="7.4"><rect width="7.4" height="7.4" fill="#B7F1E0"/><path d="M-7.4,14.8L14.8,-7.4M-7.4,7.4L7.4,-7.4M0,14.8L14.8,0" stroke="#43DEAC" stroke-width="1.6"/></pattern><pattern id="p7" patternUnits="userSpaceOnUse" x="254.50" y="443.30" width="7.3" height="7.3"><rect width="7.3" height="7.3" fill="#C4B4DA"/><path d="M-7.3,-7.3L14.6,14.6M0,-7.3L14.6,7.3M-7.3,0L7.3,14.6" stroke="#9595CD" stroke-width="1.5"/></pattern><pattern id="p8" patternUnits="userSpaceOnUse" x="273.23" y="114.01" width="4.93" height="5.25"><rect width="4.93" height="5.25" fill="#F8C5DE"/><rect x="0" y="0" width="4.93" height="1.45" fill="#EE60A8"/><rect x="0" y="0" width="1.45" height="5.25" fill="#EE60A8"/></pattern><pattern id="p9" patternUnits="userSpaceOnUse" x="309.84" y="443.30" width="10.5" height="11.1"><rect width="10.5" height="11.1" fill="#FDD4B5"/><path d="M-10.5,-11.1L21.0,22.2M-10.5,22.2L21.0,-11.1" stroke="#FF8B38" stroke-width="1.6"/></pattern><pattern id="p10" patternUnits="userSpaceOnUse" x="328.77" y="443.30" width="7.4" height="7.4"><rect width="7.4" height="7.4" fill="#B7F1E0"/><path d="M-7.4,14.8L14.8,-7.4M-7.4,7.4L7.4,-7.4M0,14.8L14.8,0" stroke="#43DEAC" stroke-width="1.6"/></pattern><pattern id="p11" patternUnits="userSpaceOnUse" x="347.70" y="443.30" width="7.3" height="7.3"><rect width="7.3" height="7.3" fill="#C4B4DA"/><path d="M-7.3,-7.3L14.6,14.6M0,-7.3L14.6,7.3M-7.3,0L7.3,14.6" stroke="#9595CD" stroke-width="1.5"/></pattern><pattern id="p12" patternUnits="userSpaceOnUse" x="366.43" y="87.20" width="4.93" height="5.25"><rect width="4.93" height="5.25" fill="#F8C5DE"/><rect x="0" y="0" width="4.93" height="1.45" fill="#EE60A8"/><rect x="0" y="0" width="1.45" height="5.25" fill="#EE60A8"/></pattern><pattern id="p13" patternUnits="userSpaceOnUse" x="403.14" y="443.30" width="10.5" height="11.1"><rect width="10.5" height="11.1" fill="#FDD4B5"/><path d="M-10.5,-11.1L21.0,22.2M-10.5,22.2L21.0,-11.1" stroke="#FF8B38" stroke-width="1.6"/></pattern><pattern id="p14" patternUnits="userSpaceOnUse" x="422.07" y="443.30" width="7.4" height="7.4"><rect width="7.4" height="7.4" fill="#B7F1E0"/><path d="M-7.4,14.8L14.8,-7.4M-7.4,7.4L7.4,-7.4M0,14.8L14.8,0" stroke="#43DEAC" stroke-width="1.6"/></pattern><pattern id="p15" patternUnits="userSpaceOnUse" x="441.00" y="443.30" width="7.3" height="7.3"><rect width="7.3" height="7.3" fill="#C4B4DA"/><path d="M-7.3,-7.3L14.6,14.6M0,-7.3L14.6,7.3M-7.3,0L7.3,14.6" stroke="#9595CD" stroke-width="1.5"/></pattern><pattern id="p16" patternUnits="userSpaceOnUse" x="459.73" y="73.80" width="4.93" height="5.25"><rect width="4.93" height="5.25" fill="#F8C5DE"/><rect x="0" y="0" width="4.93" height="1.45" fill="#EE60A8"/><rect x="0" y="0" width="1.45" height="5.25" fill="#EE60A8"/></pattern><pattern id="p17" patternUnits="userSpaceOnUse" x="496.44" y="443.30" width="10.5" height="11.1"><rect width="10.5" height="11.1" fill="#FDD4B5"/><path d="M-10.5,-11.1L21.0,22.2M-10.5,22.2L21.0,-11.1" stroke="#FF8B38" stroke-width="1.6"/></pattern><pattern id="p18" patternUnits="userSpaceOnUse" x="515.37" y="443.30" width="7.4" height="7.4"><rect width="7.4" height="7.4" fill="#B7F1E0"/><path d="M-7.4,14.8L14.8,-7.4M-7.4,7.4L7.4,-7.4M0,14.8L14.8,0" stroke="#43DEAC" stroke-width="1.6"/></pattern><pattern id="p19" patternUnits="userSpaceOnUse" x="534.30" y="443.30" width="7.3" height="7.3"><rect width="7.3" height="7.3" fill="#C4B4DA"/><path d="M-7.3,-7.3L14.6,14.6M0,-7.3L14.6,7.3M-7.3,0L7.3,14.6" stroke="#9595CD" stroke-width="1.5"/></pattern><pattern id="p20" patternUnits="userSpaceOnUse" x="553.03" y="109.54" width="4.93" height="5.25"><rect width="4.93" height="5.25" fill="#F8C5DE"/><rect x="0" y="0" width="4.93" height="1.45" fill="#EE60A8"/><rect x="0" y="0" width="1.45" height="5.25" fill="#EE60A8"/></pattern><pattern id="p21" patternUnits="userSpaceOnUse" x="124.80" y="55.70" width="10.5" height="11.1"><rect width="10.5" height="11.1" fill="#FDD4B5"/><path d="M-10.5,-11.1L21.0,22.2M-10.5,22.2L21.0,-11.1" stroke="#FF8B38" stroke-width="1.6"/></pattern><pattern id="p22" patternUnits="userSpaceOnUse" x="124.80" y="93.20" width="7.4" height="7.4"><rect width="7.4" height="7.4" fill="#B7F1E0"/><path d="M-7.4,14.8L14.8,-7.4M-7.4,7.4L7.4,-7.4M0,14.8L14.8,0" stroke="#43DEAC" stroke-width="1.6"/></pattern><pattern id="p23" patternUnits="userSpaceOnUse" x="124.80" y="130.60" width="7.3" height="7.3"><rect width="7.3" height="7.3" fill="#C4B4DA"/><path d="M-7.3,-7.3L14.6,14.6M0,-7.3L14.6,7.3M-7.3,0L7.3,14.6" stroke="#9595CD" stroke-width="1.5"/></pattern><pattern id="p24" patternUnits="userSpaceOnUse" x="124.40" y="169.30" width="4.93" height="5.25"><rect width="4.93" height="5.25" fill="#F8C5DE"/><rect x="0" y="0" width="4.93" height="1.45" fill="#EE60A8"/><rect x="0" y="0" width="1.45" height="5.25" fill="#EE60A8"/></pattern><pattern id="p25" patternUnits="userSpaceOnUse" x="123.70" y="794.28" width="5" height="4.93"><rect width="5" height="4.93" fill="#D8D8D8"/><rect x="0" y="0" width="5" height="1.7" fill="#9A9A9A"/></pattern><pattern id="p26" patternUnits="userSpaceOnUse" x="138.78" y="788.20" width="6.8" height="6.9"><rect width="6.8" height="6.9" fill="#FDD4B5"/><path d="M-6.8,-6.9L13.6,13.8M-6.8,13.8L13.6,-6.9" stroke="#FF8B38" stroke-width="1.7"/></pattern><pattern id="p27" patternUnits="userSpaceOnUse" x="153.86" y="782.11" width="7.0" height="7.0"><rect width="7.0" height="7.0" fill="#B7F1E0"/><path d="M-7.0,14.0L14.0,-7.0M-7.0,7.0L7.0,-7.0M0,14.0L14.0,0" stroke="#43DEAC" stroke-width="1.5"/></pattern><pattern id="p28" patternUnits="userSpaceOnUse" x="168.94" y="776.02" width="6.9" height="6.9"><rect width="6.9" height="6.9" fill="#D6D2EA"/><path d="M-6.9,-6.9L13.8,13.8M0,-6.9L13.8,6.9M-6.9,0L6.9,13.8" stroke="#9595CD" stroke-width="1.5"/></pattern><pattern id="p29" patternUnits="userSpaceOnUse" x="184.02" y="769.93" width="4.9" height="5.0"><rect width="4.9" height="5.0" fill="#F8C5DE"/><rect x="0" y="0" width="4.9" height="1.45" fill="#EE60A8"/><rect x="0" y="0" width="1.45" height="5.0" fill="#EE60A8"/></pattern><pattern id="p30" patternUnits="userSpaceOnUse" x="217.00" y="782.11" width="5" height="4.93"><rect width="5" height="4.93" fill="#D8D8D8"/><rect x="0" y="0" width="5" height="1.7" fill="#9A9A9A"/></pattern><pattern id="p31" patternUnits="userSpaceOnUse" x="232.08" y="769.93" width="6.8" height="6.9"><rect width="6.8" height="6.9" fill="#FDD4B5"/><path d="M-6.8,-6.9L13.6,13.8M-6.8,13.8L13.6,-6.9" stroke="#FF8B38" stroke-width="1.7"/></pattern><pattern id="p32" patternUnits="userSpaceOnUse" x="247.16" y="751.67" width="7.0" height="7.0"><rect width="7.0" height="7.0" fill="#B7F1E0"/><path d="M-7.0,14.0L14.0,-7.0M-7.0,7.0L7.0,-7.0M0,14.0L14.0,0" stroke="#43DEAC" stroke-width="1.5"/></pattern><pattern id="p33" patternUnits="userSpaceOnUse" x="262.24" y="733.40" width="6.9" height="6.9"><rect width="6.9" height="6.9" fill="#D6D2EA"/><path d="M-6.9,-6.9L13.8,13.8M0,-6.9L13.8,6.9M-6.9,0L6.9,13.8" stroke="#9595CD" stroke-width="1.5"/></pattern><pattern id="p34" patternUnits="userSpaceOnUse" x="277.32" y="727.32" width="4.9" height="5.0"><rect width="4.9" height="5.0" fill="#F8C5DE"/><rect x="0" y="0" width="4.9" height="1.45" fill="#EE60A8"/><rect x="0" y="0" width="1.45" height="5.0" fill="#EE60A8"/></pattern><pattern id="p35" patternUnits="userSpaceOnUse" x="310.30" y="776.02" width="5" height="4.93"><rect width="5" height="4.93" fill="#D8D8D8"/><rect x="0" y="0" width="5" height="1.7" fill="#9A9A9A"/></pattern><pattern id="p36" patternUnits="userSpaceOnUse" x="325.38" y="757.76" width="6.8" height="6.9"><rect width="6.8" height="6.9" fill="#FDD4B5"/><path d="M-6.8,-6.9L13.6,13.8M-6.8,13.8L13.6,-6.9" stroke="#FF8B38" stroke-width="1.7"/></pattern><pattern id="p37" patternUnits="userSpaceOnUse" x="340.46" y="739.49" width="7.0" height="7.0"><rect width="7.0" height="7.0" fill="#B7F1E0"/><path d="M-7.0,14.0L14.0,-7.0M-7.0,7.0L7.0,-7.0M0,14.0L14.0,0" stroke="#43DEAC" stroke-width="1.5"/></pattern><pattern id="p38" patternUnits="userSpaceOnUse" x="355.54" y="727.32" width="6.9" height="6.9"><rect width="6.9" height="6.9" fill="#D6D2EA"/><path d="M-6.9,-6.9L13.8,13.8M0,-6.9L13.8,6.9M-6.9,0L6.9,13.8" stroke="#9595CD" stroke-width="1.5"/></pattern><pattern id="p39" patternUnits="userSpaceOnUse" x="370.62" y="702.96" width="4.9" height="5.0"><rect width="4.9" height="5.0" fill="#F8C5DE"/><rect x="0" y="0" width="4.9" height="1.45" fill="#EE60A8"/><rect x="0" y="0" width="1.45" height="5.0" fill="#EE60A8"/></pattern><pattern id="p40" patternUnits="userSpaceOnUse" x="403.50" y="769.93" width="5" height="4.93"><rect width="5" height="4.93" fill="#D8D8D8"/><rect x="0" y="0" width="5" height="1.7" fill="#9A9A9A"/></pattern><pattern id="p41" patternUnits="userSpaceOnUse" x="418.58" y="709.05" width="6.8" height="6.9"><rect width="6.8" height="6.9" fill="#FDD4B5"/><path d="M-6.8,-6.9L13.6,13.8M-6.8,13.8L13.6,-6.9" stroke="#FF8B38" stroke-width="1.7"/></pattern><pattern id="p42" patternUnits="userSpaceOnUse" x="433.66" y="696.88" width="7.0" height="7.0"><rect width="7.0" height="7.0" fill="#B7F1E0"/><path d="M-7.0,14.0L14.0,-7.0M-7.0,7.0L7.0,-7.0M0,14.0L14.0,0" stroke="#43DEAC" stroke-width="1.5"/></pattern><pattern id="p43" patternUnits="userSpaceOnUse" x="448.74" y="678.61" width="6.9" height="6.9"><rect width="6.9" height="6.9" fill="#D6D2EA"/><path d="M-6.9,-6.9L13.8,13.8M0,-6.9L13.8,6.9M-6.9,0L6.9,13.8" stroke="#9595CD" stroke-width="1.5"/></pattern><pattern id="p44" patternUnits="userSpaceOnUse" x="463.82" y="623.82" width="4.9" height="5.0"><rect width="4.9" height="5.0" fill="#F8C5DE"/><rect x="0" y="0" width="4.9" height="1.45" fill="#EE60A8"/><rect x="0" y="0" width="1.45" height="5.0" fill="#EE60A8"/></pattern><pattern id="p45" patternUnits="userSpaceOnUse" x="496.80" y="788.20" width="5" height="4.93"><rect width="5" height="4.93" fill="#D8D8D8"/><rect x="0" y="0" width="5" height="1.7" fill="#9A9A9A"/></pattern><pattern id="p46" patternUnits="userSpaceOnUse" x="511.88" y="769.93" width="6.8" height="6.9"><rect width="6.8" height="6.9" fill="#FDD4B5"/><path d="M-6.8,-6.9L13.6,13.8M-6.8,13.8L13.6,-6.9" stroke="#FF8B38" stroke-width="1.7"/></pattern><pattern id="p47" patternUnits="userSpaceOnUse" x="526.96" y="757.76" width="7.0" height="7.0"><rect width="7.0" height="7.0" fill="#B7F1E0"/><path d="M-7.0,14.0L14.0,-7.0M-7.0,7.0L7.0,-7.0M0,14.0L14.0,0" stroke="#43DEAC" stroke-width="1.5"/></pattern><pattern id="p48" patternUnits="userSpaceOnUse" x="542.04" y="751.67" width="6.9" height="6.9"><rect width="6.9" height="6.9" fill="#D6D2EA"/><path d="M-6.9,-6.9L13.8,13.8M0,-6.9L13.8,6.9M-6.9,0L6.9,13.8" stroke="#9595CD" stroke-width="1.5"/></pattern><pattern id="p49" patternUnits="userSpaceOnUse" x="557.12" y="739.49" width="4.9" height="5.0"><rect width="4.9" height="5.0" fill="#F8C5DE"/><rect x="0" y="0" width="4.9" height="1.45" fill="#EE60A8"/><rect x="0" y="0" width="1.45" height="5.0" fill="#EE60A8"/></pattern><pattern id="p50" patternUnits="userSpaceOnUse" x="137.30" y="626.30" width="5" height="4.93"><rect width="5" height="4.93" fill="#D8D8D8"/><rect x="0" y="0" width="5" height="1.7" fill="#9A9A9A"/></pattern><pattern id="p51" patternUnits="userSpaceOnUse" x="236.50" y="626.30" width="6.8" height="6.9"><rect width="6.8" height="6.9" fill="#FDD4B5"/><path d="M-6.8,-6.9L13.6,13.8M-6.8,13.8L13.6,-6.9" stroke="#FF8B38" stroke-width="1.7"/></pattern><pattern id="p52" patternUnits="userSpaceOnUse" x="335.90" y="626.30" width="7.0" height="7.0"><rect width="7.0" height="7.0" fill="#B7F1E0"/><path d="M-7.0,14.0L14.0,-7.0M-7.0,7.0L7.0,-7.0M0,14.0L14.0,0" stroke="#43DEAC" stroke-width="1.5"/></pattern><pattern id="p53" patternUnits="userSpaceOnUse" x="205.20" y="661.90" width="6.9" height="6.9"><rect width="6.9" height="6.9" fill="#D6D2EA"/><path d="M-6.9,-6.9L13.8,13.8M0,-6.9L13.8,6.9M-6.9,0L6.9,13.8" stroke="#9595CD" stroke-width="1.5"/></pattern><pattern id="p54" patternUnits="userSpaceOnUse" x="304.50" y="661.90" width="4.9" height="5.0"><rect width="4.9" height="5.0" fill="#F8C5DE"/><rect x="0" y="0" width="4.9" height="1.45" fill="#EE60A8"/><rect x="0" y="0" width="1.45" height="5.0" fill="#EE60A8"/></pattern></defs>
</svg></body></html>
